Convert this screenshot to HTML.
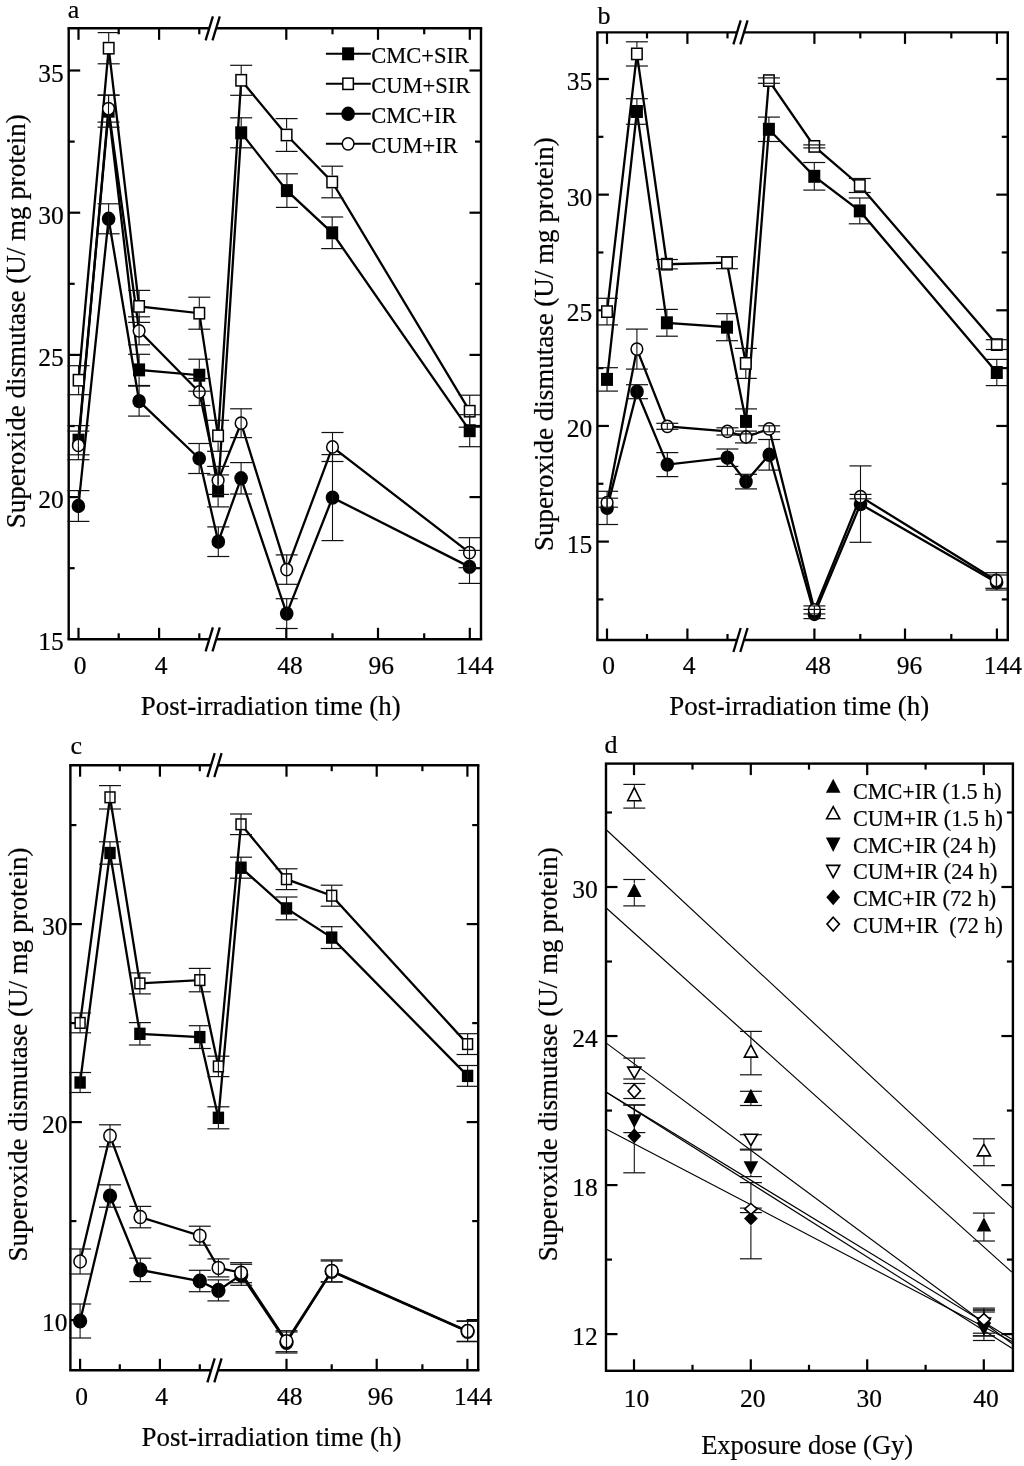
<!DOCTYPE html><html><head><meta charset="utf-8"><style>html,body{margin:0;padding:0;background:#fff;}svg{display:block;will-change:transform;}text{font-family:"Liberation Serif",serif;fill:#000;stroke:#000;stroke-width:0.2px;}</style></head><body>
<svg width="1024" height="1466" viewBox="0 0 1024 1466">
<rect width="1024" height="1466" fill="#fff"/>
<line x1="67.50" y1="28.30" x2="209.25" y2="28.30" stroke="#000" stroke-width="2.4" stroke-linecap="butt"/>
<line x1="216.15" y1="28.30" x2="482.20" y2="28.30" stroke="#000" stroke-width="2.4" stroke-linecap="butt"/>
<line x1="67.50" y1="639.30" x2="209.25" y2="639.30" stroke="#000" stroke-width="2.4" stroke-linecap="butt"/>
<line x1="216.15" y1="639.30" x2="482.20" y2="639.30" stroke="#000" stroke-width="2.4" stroke-linecap="butt"/>
<line x1="68.70" y1="28.30" x2="68.70" y2="639.30" stroke="#000" stroke-width="2.4" stroke-linecap="butt"/>
<line x1="481.00" y1="28.30" x2="481.00" y2="639.30" stroke="#000" stroke-width="2.4" stroke-linecap="butt"/>
<line x1="212.90" y1="16.30" x2="205.60" y2="40.30" stroke="#000" stroke-width="2.3" stroke-linecap="butt"/>
<line x1="219.80" y1="16.30" x2="212.50" y2="40.30" stroke="#000" stroke-width="2.3" stroke-linecap="butt"/>
<line x1="212.90" y1="627.30" x2="205.60" y2="651.30" stroke="#000" stroke-width="2.3" stroke-linecap="butt"/>
<line x1="219.80" y1="627.30" x2="212.50" y2="651.30" stroke="#000" stroke-width="2.3" stroke-linecap="butt"/>
<line x1="78.50" y1="28.30" x2="78.50" y2="39.80" stroke="#000" stroke-width="2.2" stroke-linecap="butt"/>
<line x1="78.50" y1="639.30" x2="78.50" y2="627.80" stroke="#000" stroke-width="2.2" stroke-linecap="butt"/>
<line x1="118.70" y1="28.30" x2="118.70" y2="34.30" stroke="#000" stroke-width="2.2" stroke-linecap="butt"/>
<line x1="118.70" y1="639.30" x2="118.70" y2="633.30" stroke="#000" stroke-width="2.2" stroke-linecap="butt"/>
<line x1="159.10" y1="28.30" x2="159.10" y2="39.80" stroke="#000" stroke-width="2.2" stroke-linecap="butt"/>
<line x1="159.10" y1="639.30" x2="159.10" y2="627.80" stroke="#000" stroke-width="2.2" stroke-linecap="butt"/>
<line x1="199.30" y1="28.30" x2="199.30" y2="34.30" stroke="#000" stroke-width="2.2" stroke-linecap="butt"/>
<line x1="199.30" y1="639.30" x2="199.30" y2="633.30" stroke="#000" stroke-width="2.2" stroke-linecap="butt"/>
<line x1="286.30" y1="28.30" x2="286.30" y2="39.80" stroke="#000" stroke-width="2.2" stroke-linecap="butt"/>
<line x1="286.30" y1="639.30" x2="286.30" y2="627.80" stroke="#000" stroke-width="2.2" stroke-linecap="butt"/>
<line x1="332.50" y1="28.30" x2="332.50" y2="34.30" stroke="#000" stroke-width="2.2" stroke-linecap="butt"/>
<line x1="332.50" y1="639.30" x2="332.50" y2="633.30" stroke="#000" stroke-width="2.2" stroke-linecap="butt"/>
<line x1="378.00" y1="28.30" x2="378.00" y2="39.80" stroke="#000" stroke-width="2.2" stroke-linecap="butt"/>
<line x1="378.00" y1="639.30" x2="378.00" y2="627.80" stroke="#000" stroke-width="2.2" stroke-linecap="butt"/>
<line x1="424.20" y1="28.30" x2="424.20" y2="34.30" stroke="#000" stroke-width="2.2" stroke-linecap="butt"/>
<line x1="424.20" y1="639.30" x2="424.20" y2="633.30" stroke="#000" stroke-width="2.2" stroke-linecap="butt"/>
<line x1="469.80" y1="28.30" x2="469.80" y2="39.80" stroke="#000" stroke-width="2.2" stroke-linecap="butt"/>
<line x1="469.80" y1="639.30" x2="469.80" y2="627.80" stroke="#000" stroke-width="2.2" stroke-linecap="butt"/>
<line x1="68.70" y1="568.20" x2="74.70" y2="568.20" stroke="#000" stroke-width="2.2" stroke-linecap="butt"/>
<line x1="481.00" y1="568.20" x2="475.00" y2="568.20" stroke="#000" stroke-width="2.2" stroke-linecap="butt"/>
<line x1="68.70" y1="497.10" x2="80.20" y2="497.10" stroke="#000" stroke-width="2.2" stroke-linecap="butt"/>
<line x1="481.00" y1="497.10" x2="469.50" y2="497.10" stroke="#000" stroke-width="2.2" stroke-linecap="butt"/>
<line x1="68.70" y1="426.00" x2="74.70" y2="426.00" stroke="#000" stroke-width="2.2" stroke-linecap="butt"/>
<line x1="481.00" y1="426.00" x2="475.00" y2="426.00" stroke="#000" stroke-width="2.2" stroke-linecap="butt"/>
<line x1="68.70" y1="354.90" x2="80.20" y2="354.90" stroke="#000" stroke-width="2.2" stroke-linecap="butt"/>
<line x1="481.00" y1="354.90" x2="469.50" y2="354.90" stroke="#000" stroke-width="2.2" stroke-linecap="butt"/>
<line x1="68.70" y1="283.80" x2="74.70" y2="283.80" stroke="#000" stroke-width="2.2" stroke-linecap="butt"/>
<line x1="481.00" y1="283.80" x2="475.00" y2="283.80" stroke="#000" stroke-width="2.2" stroke-linecap="butt"/>
<line x1="68.70" y1="212.70" x2="80.20" y2="212.70" stroke="#000" stroke-width="2.2" stroke-linecap="butt"/>
<line x1="481.00" y1="212.70" x2="469.50" y2="212.70" stroke="#000" stroke-width="2.2" stroke-linecap="butt"/>
<line x1="68.70" y1="141.60" x2="74.70" y2="141.60" stroke="#000" stroke-width="2.2" stroke-linecap="butt"/>
<line x1="481.00" y1="141.60" x2="475.00" y2="141.60" stroke="#000" stroke-width="2.2" stroke-linecap="butt"/>
<line x1="68.70" y1="70.50" x2="80.20" y2="70.50" stroke="#000" stroke-width="2.2" stroke-linecap="butt"/>
<line x1="481.00" y1="70.50" x2="469.50" y2="70.50" stroke="#000" stroke-width="2.2" stroke-linecap="butt"/>
<path d="M78.50,440.20 L108.60,111.20 L139.10,369.90 L199.30,375.20 L218.10,490.90 L241.20,132.80 L286.90,190.60 L332.20,232.80 L469.70,430.70" fill="none" stroke="#000" stroke-width="2.3" stroke-linejoin="miter" stroke-miterlimit="3"/>
<path d="M78.60,380.20 L108.70,48.20 L139.10,306.40 L199.30,313.20 L218.10,435.80 L241.20,80.30 L286.60,135.00 L332.20,182.00 L469.70,411.20" fill="none" stroke="#000" stroke-width="2.3" stroke-linejoin="miter" stroke-miterlimit="3"/>
<path d="M78.40,506.00 L108.60,218.80 L139.10,401.10 L199.20,458.50 L218.30,541.70 L241.10,478.30 L286.70,613.60 L332.50,497.60 L469.50,566.90" fill="none" stroke="#000" stroke-width="2.3" stroke-linejoin="miter" stroke-miterlimit="3"/>
<path d="M78.40,445.40 L108.50,108.60 L139.10,330.80 L199.30,392.00 L218.10,480.40 L241.10,423.20 L286.70,569.60 L332.50,447.00 L469.50,552.70" fill="none" stroke="#000" stroke-width="2.3" stroke-linejoin="miter" stroke-miterlimit="3"/>
<rect x="72.50" y="433.70" width="12.00" height="13.00" fill="#000"/>
<rect x="102.60" y="104.70" width="12.00" height="13.00" fill="#000"/>
<rect x="133.10" y="363.40" width="12.00" height="13.00" fill="#000"/>
<rect x="193.30" y="368.70" width="12.00" height="13.00" fill="#000"/>
<rect x="212.10" y="484.40" width="12.00" height="13.00" fill="#000"/>
<rect x="235.20" y="126.30" width="12.00" height="13.00" fill="#000"/>
<rect x="280.90" y="184.10" width="12.00" height="13.00" fill="#000"/>
<rect x="326.20" y="226.30" width="12.00" height="13.00" fill="#000"/>
<rect x="463.70" y="424.20" width="12.00" height="13.00" fill="#000"/>
<rect x="73.35" y="374.55" width="10.50" height="11.30" fill="#fff" stroke="#000" stroke-width="1.5"/>
<rect x="103.45" y="42.55" width="10.50" height="11.30" fill="#fff" stroke="#000" stroke-width="1.5"/>
<rect x="133.85" y="300.75" width="10.50" height="11.30" fill="#fff" stroke="#000" stroke-width="1.5"/>
<rect x="194.05" y="307.55" width="10.50" height="11.30" fill="#fff" stroke="#000" stroke-width="1.5"/>
<rect x="212.85" y="430.15" width="10.50" height="11.30" fill="#fff" stroke="#000" stroke-width="1.5"/>
<rect x="235.95" y="74.65" width="10.50" height="11.30" fill="#fff" stroke="#000" stroke-width="1.5"/>
<rect x="281.35" y="129.35" width="10.50" height="11.30" fill="#fff" stroke="#000" stroke-width="1.5"/>
<rect x="326.95" y="176.35" width="10.50" height="11.30" fill="#fff" stroke="#000" stroke-width="1.5"/>
<rect x="464.45" y="405.55" width="10.50" height="11.30" fill="#fff" stroke="#000" stroke-width="1.5"/>
<ellipse cx="78.40" cy="506.00" rx="6.80" ry="7.20" fill="#000"/>
<ellipse cx="108.60" cy="218.80" rx="6.80" ry="7.20" fill="#000"/>
<ellipse cx="139.10" cy="401.10" rx="6.80" ry="7.20" fill="#000"/>
<ellipse cx="199.20" cy="458.50" rx="6.80" ry="7.20" fill="#000"/>
<ellipse cx="218.30" cy="541.70" rx="6.80" ry="7.20" fill="#000"/>
<ellipse cx="241.10" cy="478.30" rx="6.80" ry="7.20" fill="#000"/>
<ellipse cx="286.70" cy="613.60" rx="6.80" ry="7.20" fill="#000"/>
<ellipse cx="332.50" cy="497.60" rx="6.80" ry="7.20" fill="#000"/>
<ellipse cx="469.50" cy="566.90" rx="6.80" ry="7.20" fill="#000"/>
<ellipse cx="78.40" cy="445.40" rx="5.85" ry="6.15" fill="#fff" stroke="#000" stroke-width="1.5"/>
<ellipse cx="108.50" cy="108.60" rx="5.85" ry="6.15" fill="#fff" stroke="#000" stroke-width="1.5"/>
<ellipse cx="139.10" cy="330.80" rx="5.85" ry="6.15" fill="#fff" stroke="#000" stroke-width="1.5"/>
<ellipse cx="199.30" cy="392.00" rx="5.85" ry="6.15" fill="#fff" stroke="#000" stroke-width="1.5"/>
<ellipse cx="218.10" cy="480.40" rx="5.85" ry="6.15" fill="#fff" stroke="#000" stroke-width="1.5"/>
<ellipse cx="241.10" cy="423.20" rx="5.85" ry="6.15" fill="#fff" stroke="#000" stroke-width="1.5"/>
<ellipse cx="286.70" cy="569.60" rx="5.85" ry="6.15" fill="#fff" stroke="#000" stroke-width="1.5"/>
<ellipse cx="332.50" cy="447.00" rx="5.85" ry="6.15" fill="#fff" stroke="#000" stroke-width="1.5"/>
<ellipse cx="469.50" cy="552.70" rx="5.85" ry="6.15" fill="#fff" stroke="#000" stroke-width="1.5"/>
<line x1="78.50" y1="425.60" x2="78.50" y2="433.70" stroke="#111" stroke-width="1.1" stroke-linecap="butt"/>
<line x1="78.50" y1="446.70" x2="78.50" y2="454.80" stroke="#111" stroke-width="1.1" stroke-linecap="butt"/>
<line x1="67.50" y1="425.60" x2="89.50" y2="425.60" stroke="#111" stroke-width="1.2" stroke-linecap="butt"/>
<line x1="67.50" y1="454.80" x2="89.50" y2="454.80" stroke="#111" stroke-width="1.2" stroke-linecap="butt"/>
<line x1="108.60" y1="95.20" x2="108.60" y2="104.70" stroke="#111" stroke-width="1.1" stroke-linecap="butt"/>
<line x1="108.60" y1="117.70" x2="108.60" y2="127.20" stroke="#111" stroke-width="1.1" stroke-linecap="butt"/>
<line x1="97.60" y1="95.20" x2="119.60" y2="95.20" stroke="#111" stroke-width="1.2" stroke-linecap="butt"/>
<line x1="97.60" y1="127.20" x2="119.60" y2="127.20" stroke="#111" stroke-width="1.2" stroke-linecap="butt"/>
<line x1="139.10" y1="354.30" x2="139.10" y2="363.40" stroke="#111" stroke-width="1.1" stroke-linecap="butt"/>
<line x1="139.10" y1="376.40" x2="139.10" y2="385.50" stroke="#111" stroke-width="1.1" stroke-linecap="butt"/>
<line x1="128.10" y1="354.30" x2="150.10" y2="354.30" stroke="#111" stroke-width="1.2" stroke-linecap="butt"/>
<line x1="128.10" y1="385.50" x2="150.10" y2="385.50" stroke="#111" stroke-width="1.2" stroke-linecap="butt"/>
<line x1="199.30" y1="359.20" x2="199.30" y2="368.70" stroke="#111" stroke-width="1.1" stroke-linecap="butt"/>
<line x1="199.30" y1="381.70" x2="199.30" y2="391.20" stroke="#111" stroke-width="1.1" stroke-linecap="butt"/>
<line x1="188.30" y1="359.20" x2="210.30" y2="359.20" stroke="#111" stroke-width="1.2" stroke-linecap="butt"/>
<line x1="188.30" y1="391.20" x2="210.30" y2="391.20" stroke="#111" stroke-width="1.2" stroke-linecap="butt"/>
<line x1="218.10" y1="474.90" x2="218.10" y2="484.40" stroke="#111" stroke-width="1.1" stroke-linecap="butt"/>
<line x1="218.10" y1="497.40" x2="218.10" y2="506.90" stroke="#111" stroke-width="1.1" stroke-linecap="butt"/>
<line x1="207.10" y1="474.90" x2="229.10" y2="474.90" stroke="#111" stroke-width="1.2" stroke-linecap="butt"/>
<line x1="207.10" y1="506.90" x2="229.10" y2="506.90" stroke="#111" stroke-width="1.2" stroke-linecap="butt"/>
<line x1="241.20" y1="117.80" x2="241.20" y2="126.30" stroke="#111" stroke-width="1.1" stroke-linecap="butt"/>
<line x1="241.20" y1="139.30" x2="241.20" y2="147.80" stroke="#111" stroke-width="1.1" stroke-linecap="butt"/>
<line x1="230.20" y1="117.80" x2="252.20" y2="117.80" stroke="#111" stroke-width="1.2" stroke-linecap="butt"/>
<line x1="230.20" y1="147.80" x2="252.20" y2="147.80" stroke="#111" stroke-width="1.2" stroke-linecap="butt"/>
<line x1="286.90" y1="173.80" x2="286.90" y2="184.10" stroke="#111" stroke-width="1.1" stroke-linecap="butt"/>
<line x1="286.90" y1="197.10" x2="286.90" y2="207.40" stroke="#111" stroke-width="1.1" stroke-linecap="butt"/>
<line x1="275.90" y1="173.80" x2="297.90" y2="173.80" stroke="#111" stroke-width="1.2" stroke-linecap="butt"/>
<line x1="275.90" y1="207.40" x2="297.90" y2="207.40" stroke="#111" stroke-width="1.2" stroke-linecap="butt"/>
<line x1="332.20" y1="217.00" x2="332.20" y2="226.30" stroke="#111" stroke-width="1.1" stroke-linecap="butt"/>
<line x1="332.20" y1="239.30" x2="332.20" y2="248.60" stroke="#111" stroke-width="1.1" stroke-linecap="butt"/>
<line x1="321.20" y1="217.00" x2="343.20" y2="217.00" stroke="#111" stroke-width="1.2" stroke-linecap="butt"/>
<line x1="321.20" y1="248.60" x2="343.20" y2="248.60" stroke="#111" stroke-width="1.2" stroke-linecap="butt"/>
<line x1="469.70" y1="414.70" x2="469.70" y2="424.20" stroke="#111" stroke-width="1.1" stroke-linecap="butt"/>
<line x1="469.70" y1="437.20" x2="469.70" y2="446.70" stroke="#111" stroke-width="1.1" stroke-linecap="butt"/>
<line x1="458.70" y1="414.70" x2="480.70" y2="414.70" stroke="#111" stroke-width="1.2" stroke-linecap="butt"/>
<line x1="458.70" y1="446.70" x2="480.70" y2="446.70" stroke="#111" stroke-width="1.2" stroke-linecap="butt"/>
<line x1="78.60" y1="365.70" x2="78.60" y2="373.80" stroke="#111" stroke-width="1.1" stroke-linecap="butt"/>
<line x1="78.60" y1="386.60" x2="78.60" y2="394.70" stroke="#111" stroke-width="1.1" stroke-linecap="butt"/>
<line x1="67.60" y1="365.70" x2="89.60" y2="365.70" stroke="#111" stroke-width="1.2" stroke-linecap="butt"/>
<line x1="67.60" y1="394.70" x2="89.60" y2="394.70" stroke="#111" stroke-width="1.2" stroke-linecap="butt"/>
<line x1="108.70" y1="32.60" x2="108.70" y2="41.80" stroke="#111" stroke-width="1.1" stroke-linecap="butt"/>
<line x1="108.70" y1="54.60" x2="108.70" y2="63.80" stroke="#111" stroke-width="1.1" stroke-linecap="butt"/>
<line x1="97.70" y1="32.60" x2="119.70" y2="32.60" stroke="#111" stroke-width="1.2" stroke-linecap="butt"/>
<line x1="97.70" y1="63.80" x2="119.70" y2="63.80" stroke="#111" stroke-width="1.2" stroke-linecap="butt"/>
<line x1="139.10" y1="290.40" x2="139.10" y2="300.00" stroke="#111" stroke-width="1.1" stroke-linecap="butt"/>
<line x1="139.10" y1="312.80" x2="139.10" y2="322.40" stroke="#111" stroke-width="1.1" stroke-linecap="butt"/>
<line x1="128.10" y1="290.40" x2="150.10" y2="290.40" stroke="#111" stroke-width="1.2" stroke-linecap="butt"/>
<line x1="128.10" y1="322.40" x2="150.10" y2="322.40" stroke="#111" stroke-width="1.2" stroke-linecap="butt"/>
<line x1="199.30" y1="297.20" x2="199.30" y2="306.80" stroke="#111" stroke-width="1.1" stroke-linecap="butt"/>
<line x1="199.30" y1="319.60" x2="199.30" y2="329.20" stroke="#111" stroke-width="1.1" stroke-linecap="butt"/>
<line x1="188.30" y1="297.20" x2="210.30" y2="297.20" stroke="#111" stroke-width="1.2" stroke-linecap="butt"/>
<line x1="188.30" y1="329.20" x2="210.30" y2="329.20" stroke="#111" stroke-width="1.2" stroke-linecap="butt"/>
<line x1="218.10" y1="420.30" x2="218.10" y2="429.40" stroke="#111" stroke-width="1.1" stroke-linecap="butt"/>
<line x1="218.10" y1="442.20" x2="218.10" y2="451.30" stroke="#111" stroke-width="1.1" stroke-linecap="butt"/>
<line x1="207.10" y1="420.30" x2="229.10" y2="420.30" stroke="#111" stroke-width="1.2" stroke-linecap="butt"/>
<line x1="207.10" y1="451.30" x2="229.10" y2="451.30" stroke="#111" stroke-width="1.2" stroke-linecap="butt"/>
<line x1="241.20" y1="65.30" x2="241.20" y2="73.90" stroke="#111" stroke-width="1.1" stroke-linecap="butt"/>
<line x1="241.20" y1="86.70" x2="241.20" y2="95.30" stroke="#111" stroke-width="1.1" stroke-linecap="butt"/>
<line x1="230.20" y1="65.30" x2="252.20" y2="65.30" stroke="#111" stroke-width="1.2" stroke-linecap="butt"/>
<line x1="230.20" y1="95.30" x2="252.20" y2="95.30" stroke="#111" stroke-width="1.2" stroke-linecap="butt"/>
<line x1="286.60" y1="118.60" x2="286.60" y2="128.60" stroke="#111" stroke-width="1.1" stroke-linecap="butt"/>
<line x1="286.60" y1="141.40" x2="286.60" y2="151.40" stroke="#111" stroke-width="1.1" stroke-linecap="butt"/>
<line x1="275.60" y1="118.60" x2="297.60" y2="118.60" stroke="#111" stroke-width="1.2" stroke-linecap="butt"/>
<line x1="275.60" y1="151.40" x2="297.60" y2="151.40" stroke="#111" stroke-width="1.2" stroke-linecap="butt"/>
<line x1="332.20" y1="166.20" x2="332.20" y2="175.60" stroke="#111" stroke-width="1.1" stroke-linecap="butt"/>
<line x1="332.20" y1="188.40" x2="332.20" y2="197.80" stroke="#111" stroke-width="1.1" stroke-linecap="butt"/>
<line x1="321.20" y1="166.20" x2="343.20" y2="166.20" stroke="#111" stroke-width="1.2" stroke-linecap="butt"/>
<line x1="321.20" y1="197.80" x2="343.20" y2="197.80" stroke="#111" stroke-width="1.2" stroke-linecap="butt"/>
<line x1="469.70" y1="395.20" x2="469.70" y2="404.80" stroke="#111" stroke-width="1.1" stroke-linecap="butt"/>
<line x1="469.70" y1="417.60" x2="469.70" y2="427.20" stroke="#111" stroke-width="1.1" stroke-linecap="butt"/>
<line x1="458.70" y1="395.20" x2="480.70" y2="395.20" stroke="#111" stroke-width="1.2" stroke-linecap="butt"/>
<line x1="458.70" y1="427.20" x2="480.70" y2="427.20" stroke="#111" stroke-width="1.2" stroke-linecap="butt"/>
<line x1="78.40" y1="490.60" x2="78.40" y2="521.40" stroke="#111" stroke-width="1.1" stroke-linecap="butt"/>
<line x1="67.40" y1="490.60" x2="89.40" y2="490.60" stroke="#111" stroke-width="1.2" stroke-linecap="butt"/>
<line x1="67.40" y1="521.40" x2="89.40" y2="521.40" stroke="#111" stroke-width="1.2" stroke-linecap="butt"/>
<line x1="108.60" y1="203.80" x2="108.60" y2="233.80" stroke="#111" stroke-width="1.1" stroke-linecap="butt"/>
<line x1="97.60" y1="203.80" x2="119.60" y2="203.80" stroke="#111" stroke-width="1.2" stroke-linecap="butt"/>
<line x1="97.60" y1="233.80" x2="119.60" y2="233.80" stroke="#111" stroke-width="1.2" stroke-linecap="butt"/>
<line x1="139.10" y1="386.10" x2="139.10" y2="416.10" stroke="#111" stroke-width="1.1" stroke-linecap="butt"/>
<line x1="128.10" y1="386.10" x2="150.10" y2="386.10" stroke="#111" stroke-width="1.2" stroke-linecap="butt"/>
<line x1="128.10" y1="416.10" x2="150.10" y2="416.10" stroke="#111" stroke-width="1.2" stroke-linecap="butt"/>
<line x1="199.20" y1="443.50" x2="199.20" y2="473.50" stroke="#111" stroke-width="1.1" stroke-linecap="butt"/>
<line x1="188.20" y1="443.50" x2="210.20" y2="443.50" stroke="#111" stroke-width="1.2" stroke-linecap="butt"/>
<line x1="188.20" y1="473.50" x2="210.20" y2="473.50" stroke="#111" stroke-width="1.2" stroke-linecap="butt"/>
<line x1="218.30" y1="526.90" x2="218.30" y2="556.50" stroke="#111" stroke-width="1.1" stroke-linecap="butt"/>
<line x1="207.30" y1="526.90" x2="229.30" y2="526.90" stroke="#111" stroke-width="1.2" stroke-linecap="butt"/>
<line x1="207.30" y1="556.50" x2="229.30" y2="556.50" stroke="#111" stroke-width="1.2" stroke-linecap="butt"/>
<line x1="241.10" y1="462.60" x2="241.10" y2="494.00" stroke="#111" stroke-width="1.1" stroke-linecap="butt"/>
<line x1="230.10" y1="462.60" x2="252.10" y2="462.60" stroke="#111" stroke-width="1.2" stroke-linecap="butt"/>
<line x1="230.10" y1="494.00" x2="252.10" y2="494.00" stroke="#111" stroke-width="1.2" stroke-linecap="butt"/>
<line x1="286.70" y1="598.70" x2="286.70" y2="628.50" stroke="#111" stroke-width="1.1" stroke-linecap="butt"/>
<line x1="275.70" y1="598.70" x2="297.70" y2="598.70" stroke="#111" stroke-width="1.2" stroke-linecap="butt"/>
<line x1="275.70" y1="628.50" x2="297.70" y2="628.50" stroke="#111" stroke-width="1.2" stroke-linecap="butt"/>
<line x1="332.50" y1="454.60" x2="332.50" y2="540.60" stroke="#111" stroke-width="1.1" stroke-linecap="butt"/>
<line x1="321.50" y1="454.60" x2="343.50" y2="454.60" stroke="#111" stroke-width="1.2" stroke-linecap="butt"/>
<line x1="321.50" y1="540.60" x2="343.50" y2="540.60" stroke="#111" stroke-width="1.2" stroke-linecap="butt"/>
<line x1="469.50" y1="550.40" x2="469.50" y2="583.40" stroke="#111" stroke-width="1.1" stroke-linecap="butt"/>
<line x1="458.50" y1="550.40" x2="480.50" y2="550.40" stroke="#111" stroke-width="1.2" stroke-linecap="butt"/>
<line x1="458.50" y1="583.40" x2="480.50" y2="583.40" stroke="#111" stroke-width="1.2" stroke-linecap="butt"/>
<line x1="78.40" y1="431.10" x2="78.40" y2="459.70" stroke="#111" stroke-width="1.1" stroke-linecap="butt"/>
<line x1="67.40" y1="431.10" x2="89.40" y2="431.10" stroke="#111" stroke-width="1.2" stroke-linecap="butt"/>
<line x1="67.40" y1="459.70" x2="89.40" y2="459.70" stroke="#111" stroke-width="1.2" stroke-linecap="butt"/>
<line x1="108.50" y1="95.10" x2="108.50" y2="122.10" stroke="#111" stroke-width="1.1" stroke-linecap="butt"/>
<line x1="97.50" y1="95.10" x2="119.50" y2="95.10" stroke="#111" stroke-width="1.2" stroke-linecap="butt"/>
<line x1="97.50" y1="122.10" x2="119.50" y2="122.10" stroke="#111" stroke-width="1.2" stroke-linecap="butt"/>
<line x1="139.10" y1="316.80" x2="139.10" y2="344.80" stroke="#111" stroke-width="1.1" stroke-linecap="butt"/>
<line x1="128.10" y1="316.80" x2="150.10" y2="316.80" stroke="#111" stroke-width="1.2" stroke-linecap="butt"/>
<line x1="128.10" y1="344.80" x2="150.10" y2="344.80" stroke="#111" stroke-width="1.2" stroke-linecap="butt"/>
<line x1="199.30" y1="378.50" x2="199.30" y2="405.50" stroke="#111" stroke-width="1.1" stroke-linecap="butt"/>
<line x1="188.30" y1="378.50" x2="210.30" y2="378.50" stroke="#111" stroke-width="1.2" stroke-linecap="butt"/>
<line x1="188.30" y1="405.50" x2="210.30" y2="405.50" stroke="#111" stroke-width="1.2" stroke-linecap="butt"/>
<line x1="218.10" y1="466.40" x2="218.10" y2="494.40" stroke="#111" stroke-width="1.1" stroke-linecap="butt"/>
<line x1="207.10" y1="466.40" x2="229.10" y2="466.40" stroke="#111" stroke-width="1.2" stroke-linecap="butt"/>
<line x1="207.10" y1="494.40" x2="229.10" y2="494.40" stroke="#111" stroke-width="1.2" stroke-linecap="butt"/>
<line x1="241.10" y1="408.80" x2="241.10" y2="437.60" stroke="#111" stroke-width="1.1" stroke-linecap="butt"/>
<line x1="230.10" y1="408.80" x2="252.10" y2="408.80" stroke="#111" stroke-width="1.2" stroke-linecap="butt"/>
<line x1="230.10" y1="437.60" x2="252.10" y2="437.60" stroke="#111" stroke-width="1.2" stroke-linecap="butt"/>
<line x1="286.70" y1="554.90" x2="286.70" y2="584.30" stroke="#111" stroke-width="1.1" stroke-linecap="butt"/>
<line x1="275.70" y1="554.90" x2="297.70" y2="554.90" stroke="#111" stroke-width="1.2" stroke-linecap="butt"/>
<line x1="275.70" y1="584.30" x2="297.70" y2="584.30" stroke="#111" stroke-width="1.2" stroke-linecap="butt"/>
<line x1="332.50" y1="432.50" x2="332.50" y2="461.50" stroke="#111" stroke-width="1.1" stroke-linecap="butt"/>
<line x1="321.50" y1="432.50" x2="343.50" y2="432.50" stroke="#111" stroke-width="1.2" stroke-linecap="butt"/>
<line x1="321.50" y1="461.50" x2="343.50" y2="461.50" stroke="#111" stroke-width="1.2" stroke-linecap="butt"/>
<line x1="469.50" y1="537.70" x2="469.50" y2="567.70" stroke="#111" stroke-width="1.1" stroke-linecap="butt"/>
<line x1="458.50" y1="537.70" x2="480.50" y2="537.70" stroke="#111" stroke-width="1.2" stroke-linecap="butt"/>
<line x1="458.50" y1="567.70" x2="480.50" y2="567.70" stroke="#111" stroke-width="1.2" stroke-linecap="butt"/>
<line x1="325.90" y1="53.80" x2="370.80" y2="53.80" stroke="#000" stroke-width="2.1" stroke-linecap="butt"/>
<rect x="342.10" y="47.30" width="12.00" height="13.00" fill="#000"/>
<text x="371.20" y="62.60" font-size="22.5" text-anchor="start" >CMC+SIR</text>
<line x1="325.90" y1="83.80" x2="370.80" y2="83.80" stroke="#000" stroke-width="2.1" stroke-linecap="butt"/>
<rect x="342.85" y="78.15" width="10.50" height="11.30" fill="#fff" stroke="#000" stroke-width="1.5"/>
<text x="371.20" y="92.60" font-size="22.5" text-anchor="start" >CUM+SIR</text>
<line x1="325.90" y1="113.80" x2="370.80" y2="113.80" stroke="#000" stroke-width="2.1" stroke-linecap="butt"/>
<ellipse cx="348.10" cy="113.80" rx="6.80" ry="7.20" fill="#000"/>
<text x="371.20" y="122.60" font-size="22.5" text-anchor="start" >CMC+IR</text>
<line x1="325.90" y1="143.80" x2="370.80" y2="143.80" stroke="#000" stroke-width="2.1" stroke-linecap="butt"/>
<ellipse cx="348.10" cy="143.80" rx="5.85" ry="6.15" fill="#fff" stroke="#000" stroke-width="1.5"/>
<text x="371.20" y="152.60" font-size="22.5" text-anchor="start" >CUM+IR</text>
<text x="67.80" y="17.60" font-size="26" text-anchor="start" >a</text>
<text x="63.80" y="650.30" font-size="25.5" text-anchor="end" >15</text>
<text x="63.80" y="508.10" font-size="25.5" text-anchor="end" >20</text>
<text x="63.80" y="365.90" font-size="25.5" text-anchor="end" >25</text>
<text x="63.80" y="223.70" font-size="25.5" text-anchor="end" >30</text>
<text x="63.80" y="81.50" font-size="25.5" text-anchor="end" >35</text>
<text x="80.00" y="673.60" font-size="25.5" text-anchor="middle" >0</text>
<text x="161.00" y="673.60" font-size="25.5" text-anchor="middle" >4</text>
<text x="290.00" y="673.60" font-size="25.5" text-anchor="middle" >48</text>
<text x="381.20" y="673.60" font-size="25.5" text-anchor="middle" >96</text>
<text x="474.70" y="673.60" font-size="25.5" text-anchor="middle" >144</text>
<text x="140.80" y="715.30" font-size="26.9" text-anchor="start" >Post-irradiation time (h)</text>
<text transform="translate(25.20,528.30) rotate(-90)" font-size="27.0" x="0" y="0">Superoxide dismutase (U/ mg protein)</text>
<line x1="596.20" y1="32.40" x2="737.05" y2="32.40" stroke="#000" stroke-width="2.4" stroke-linecap="butt"/>
<line x1="743.95" y1="32.40" x2="1009.00" y2="32.40" stroke="#000" stroke-width="2.4" stroke-linecap="butt"/>
<line x1="596.20" y1="640.00" x2="737.05" y2="640.00" stroke="#000" stroke-width="2.4" stroke-linecap="butt"/>
<line x1="743.95" y1="640.00" x2="1009.00" y2="640.00" stroke="#000" stroke-width="2.4" stroke-linecap="butt"/>
<line x1="597.40" y1="32.40" x2="597.40" y2="640.00" stroke="#000" stroke-width="2.4" stroke-linecap="butt"/>
<line x1="1007.80" y1="32.40" x2="1007.80" y2="640.00" stroke="#000" stroke-width="2.4" stroke-linecap="butt"/>
<line x1="740.70" y1="20.40" x2="733.40" y2="44.40" stroke="#000" stroke-width="2.3" stroke-linecap="butt"/>
<line x1="747.60" y1="20.40" x2="740.30" y2="44.40" stroke="#000" stroke-width="2.3" stroke-linecap="butt"/>
<line x1="740.70" y1="628.00" x2="733.40" y2="652.00" stroke="#000" stroke-width="2.3" stroke-linecap="butt"/>
<line x1="747.60" y1="628.00" x2="740.30" y2="652.00" stroke="#000" stroke-width="2.3" stroke-linecap="butt"/>
<line x1="607.00" y1="32.40" x2="607.00" y2="43.90" stroke="#000" stroke-width="2.2" stroke-linecap="butt"/>
<line x1="607.00" y1="640.00" x2="607.00" y2="628.50" stroke="#000" stroke-width="2.2" stroke-linecap="butt"/>
<line x1="647.00" y1="32.40" x2="647.00" y2="38.40" stroke="#000" stroke-width="2.2" stroke-linecap="butt"/>
<line x1="647.00" y1="640.00" x2="647.00" y2="634.00" stroke="#000" stroke-width="2.2" stroke-linecap="butt"/>
<line x1="687.40" y1="32.40" x2="687.40" y2="43.90" stroke="#000" stroke-width="2.2" stroke-linecap="butt"/>
<line x1="687.40" y1="640.00" x2="687.40" y2="628.50" stroke="#000" stroke-width="2.2" stroke-linecap="butt"/>
<line x1="727.50" y1="32.40" x2="727.50" y2="38.40" stroke="#000" stroke-width="2.2" stroke-linecap="butt"/>
<line x1="727.50" y1="640.00" x2="727.50" y2="634.00" stroke="#000" stroke-width="2.2" stroke-linecap="butt"/>
<line x1="814.40" y1="32.40" x2="814.40" y2="43.90" stroke="#000" stroke-width="2.2" stroke-linecap="butt"/>
<line x1="814.40" y1="640.00" x2="814.40" y2="628.50" stroke="#000" stroke-width="2.2" stroke-linecap="butt"/>
<line x1="860.30" y1="32.40" x2="860.30" y2="38.40" stroke="#000" stroke-width="2.2" stroke-linecap="butt"/>
<line x1="860.30" y1="640.00" x2="860.30" y2="634.00" stroke="#000" stroke-width="2.2" stroke-linecap="butt"/>
<line x1="905.00" y1="32.40" x2="905.00" y2="43.90" stroke="#000" stroke-width="2.2" stroke-linecap="butt"/>
<line x1="905.00" y1="640.00" x2="905.00" y2="628.50" stroke="#000" stroke-width="2.2" stroke-linecap="butt"/>
<line x1="951.30" y1="32.40" x2="951.30" y2="38.40" stroke="#000" stroke-width="2.2" stroke-linecap="butt"/>
<line x1="951.30" y1="640.00" x2="951.30" y2="634.00" stroke="#000" stroke-width="2.2" stroke-linecap="butt"/>
<line x1="996.90" y1="32.40" x2="996.90" y2="43.90" stroke="#000" stroke-width="2.2" stroke-linecap="butt"/>
<line x1="996.90" y1="640.00" x2="996.90" y2="628.50" stroke="#000" stroke-width="2.2" stroke-linecap="butt"/>
<line x1="597.40" y1="599.42" x2="603.40" y2="599.42" stroke="#000" stroke-width="2.2" stroke-linecap="butt"/>
<line x1="1007.80" y1="599.42" x2="1001.80" y2="599.42" stroke="#000" stroke-width="2.2" stroke-linecap="butt"/>
<line x1="597.40" y1="541.60" x2="608.90" y2="541.60" stroke="#000" stroke-width="2.2" stroke-linecap="butt"/>
<line x1="1007.80" y1="541.60" x2="996.30" y2="541.60" stroke="#000" stroke-width="2.2" stroke-linecap="butt"/>
<line x1="597.40" y1="483.77" x2="603.40" y2="483.77" stroke="#000" stroke-width="2.2" stroke-linecap="butt"/>
<line x1="1007.80" y1="483.77" x2="1001.80" y2="483.77" stroke="#000" stroke-width="2.2" stroke-linecap="butt"/>
<line x1="597.40" y1="425.95" x2="608.90" y2="425.95" stroke="#000" stroke-width="2.2" stroke-linecap="butt"/>
<line x1="1007.80" y1="425.95" x2="996.30" y2="425.95" stroke="#000" stroke-width="2.2" stroke-linecap="butt"/>
<line x1="597.40" y1="368.12" x2="603.40" y2="368.12" stroke="#000" stroke-width="2.2" stroke-linecap="butt"/>
<line x1="1007.80" y1="368.12" x2="1001.80" y2="368.12" stroke="#000" stroke-width="2.2" stroke-linecap="butt"/>
<line x1="597.40" y1="310.30" x2="608.90" y2="310.30" stroke="#000" stroke-width="2.2" stroke-linecap="butt"/>
<line x1="1007.80" y1="310.30" x2="996.30" y2="310.30" stroke="#000" stroke-width="2.2" stroke-linecap="butt"/>
<line x1="597.40" y1="252.47" x2="603.40" y2="252.47" stroke="#000" stroke-width="2.2" stroke-linecap="butt"/>
<line x1="1007.80" y1="252.47" x2="1001.80" y2="252.47" stroke="#000" stroke-width="2.2" stroke-linecap="butt"/>
<line x1="597.40" y1="194.65" x2="608.90" y2="194.65" stroke="#000" stroke-width="2.2" stroke-linecap="butt"/>
<line x1="1007.80" y1="194.65" x2="996.30" y2="194.65" stroke="#000" stroke-width="2.2" stroke-linecap="butt"/>
<line x1="597.40" y1="136.82" x2="603.40" y2="136.82" stroke="#000" stroke-width="2.2" stroke-linecap="butt"/>
<line x1="1007.80" y1="136.82" x2="1001.80" y2="136.82" stroke="#000" stroke-width="2.2" stroke-linecap="butt"/>
<line x1="597.40" y1="79.00" x2="608.90" y2="79.00" stroke="#000" stroke-width="2.2" stroke-linecap="butt"/>
<line x1="1007.80" y1="79.00" x2="996.30" y2="79.00" stroke="#000" stroke-width="2.2" stroke-linecap="butt"/>
<path d="M607.00,379.40 L636.90,111.50 L666.90,322.80 L727.00,327.20 L746.00,421.40 L768.90,129.30 L814.30,176.30 L859.80,210.90 L996.80,372.50" fill="none" stroke="#000" stroke-width="2.3" stroke-linejoin="miter" stroke-miterlimit="3"/>
<path d="M607.00,311.60 L636.90,53.90 L666.90,264.20 L727.00,262.70 L745.80,363.40 L768.90,80.60 L814.30,146.40 L859.80,185.50 L996.80,344.60" fill="none" stroke="#000" stroke-width="2.3" stroke-linejoin="miter" stroke-miterlimit="3"/>
<path d="M607.10,507.90 L637.00,391.70 L667.30,464.60 L727.40,457.70 L746.00,481.60 L769.20,454.80 L814.40,614.00 L860.50,504.10 L996.60,582.50" fill="none" stroke="#000" stroke-width="2.3" stroke-linejoin="miter" stroke-miterlimit="3"/>
<path d="M607.10,502.70 L636.90,349.10 L667.30,426.30 L727.40,431.40 L746.00,437.00 L769.20,428.80 L814.40,609.90 L860.50,496.60 L996.30,580.50" fill="none" stroke="#000" stroke-width="2.3" stroke-linejoin="miter" stroke-miterlimit="3"/>
<rect x="601.00" y="372.90" width="12.00" height="13.00" fill="#000"/>
<rect x="630.90" y="105.00" width="12.00" height="13.00" fill="#000"/>
<rect x="660.90" y="316.30" width="12.00" height="13.00" fill="#000"/>
<rect x="721.00" y="320.70" width="12.00" height="13.00" fill="#000"/>
<rect x="740.00" y="414.90" width="12.00" height="13.00" fill="#000"/>
<rect x="762.90" y="122.80" width="12.00" height="13.00" fill="#000"/>
<rect x="808.30" y="169.80" width="12.00" height="13.00" fill="#000"/>
<rect x="853.80" y="204.40" width="12.00" height="13.00" fill="#000"/>
<rect x="990.80" y="366.00" width="12.00" height="13.00" fill="#000"/>
<rect x="601.75" y="305.95" width="10.50" height="11.30" fill="#fff" stroke="#000" stroke-width="1.5"/>
<rect x="631.65" y="48.25" width="10.50" height="11.30" fill="#fff" stroke="#000" stroke-width="1.5"/>
<rect x="661.65" y="258.55" width="10.50" height="11.30" fill="#fff" stroke="#000" stroke-width="1.5"/>
<rect x="721.75" y="257.05" width="10.50" height="11.30" fill="#fff" stroke="#000" stroke-width="1.5"/>
<rect x="740.55" y="357.75" width="10.50" height="11.30" fill="#fff" stroke="#000" stroke-width="1.5"/>
<rect x="763.65" y="74.95" width="10.50" height="11.30" fill="#fff" stroke="#000" stroke-width="1.5"/>
<rect x="809.05" y="140.75" width="10.50" height="11.30" fill="#fff" stroke="#000" stroke-width="1.5"/>
<rect x="854.55" y="179.85" width="10.50" height="11.30" fill="#fff" stroke="#000" stroke-width="1.5"/>
<rect x="991.55" y="338.95" width="10.50" height="11.30" fill="#fff" stroke="#000" stroke-width="1.5"/>
<ellipse cx="607.10" cy="507.90" rx="6.80" ry="7.20" fill="#000"/>
<ellipse cx="637.00" cy="391.70" rx="6.80" ry="7.20" fill="#000"/>
<ellipse cx="667.30" cy="464.60" rx="6.80" ry="7.20" fill="#000"/>
<ellipse cx="727.40" cy="457.70" rx="6.80" ry="7.20" fill="#000"/>
<ellipse cx="746.00" cy="481.60" rx="6.80" ry="7.20" fill="#000"/>
<ellipse cx="769.20" cy="454.80" rx="6.80" ry="7.20" fill="#000"/>
<ellipse cx="814.40" cy="614.00" rx="6.80" ry="7.20" fill="#000"/>
<ellipse cx="860.50" cy="504.10" rx="6.80" ry="7.20" fill="#000"/>
<ellipse cx="996.60" cy="582.50" rx="6.80" ry="7.20" fill="#000"/>
<ellipse cx="607.10" cy="502.70" rx="5.85" ry="6.15" fill="#fff" stroke="#000" stroke-width="1.5"/>
<ellipse cx="636.90" cy="349.10" rx="5.85" ry="6.15" fill="#fff" stroke="#000" stroke-width="1.5"/>
<ellipse cx="667.30" cy="426.30" rx="5.85" ry="6.15" fill="#fff" stroke="#000" stroke-width="1.5"/>
<ellipse cx="727.40" cy="431.40" rx="5.85" ry="6.15" fill="#fff" stroke="#000" stroke-width="1.5"/>
<ellipse cx="746.00" cy="437.00" rx="5.85" ry="6.15" fill="#fff" stroke="#000" stroke-width="1.5"/>
<ellipse cx="769.20" cy="428.80" rx="5.85" ry="6.15" fill="#fff" stroke="#000" stroke-width="1.5"/>
<ellipse cx="814.40" cy="609.90" rx="5.85" ry="6.15" fill="#fff" stroke="#000" stroke-width="1.5"/>
<ellipse cx="860.50" cy="496.60" rx="5.85" ry="6.15" fill="#fff" stroke="#000" stroke-width="1.5"/>
<ellipse cx="996.30" cy="580.50" rx="5.85" ry="6.15" fill="#fff" stroke="#000" stroke-width="1.5"/>
<line x1="607.00" y1="367.70" x2="607.00" y2="372.90" stroke="#111" stroke-width="1.1" stroke-linecap="butt"/>
<line x1="607.00" y1="385.90" x2="607.00" y2="391.10" stroke="#111" stroke-width="1.1" stroke-linecap="butt"/>
<line x1="596.00" y1="367.70" x2="618.00" y2="367.70" stroke="#111" stroke-width="1.2" stroke-linecap="butt"/>
<line x1="596.00" y1="391.10" x2="618.00" y2="391.10" stroke="#111" stroke-width="1.2" stroke-linecap="butt"/>
<line x1="636.90" y1="98.70" x2="636.90" y2="105.00" stroke="#111" stroke-width="1.1" stroke-linecap="butt"/>
<line x1="636.90" y1="118.00" x2="636.90" y2="124.30" stroke="#111" stroke-width="1.1" stroke-linecap="butt"/>
<line x1="625.90" y1="98.70" x2="647.90" y2="98.70" stroke="#111" stroke-width="1.2" stroke-linecap="butt"/>
<line x1="625.90" y1="124.30" x2="647.90" y2="124.30" stroke="#111" stroke-width="1.2" stroke-linecap="butt"/>
<line x1="666.90" y1="309.40" x2="666.90" y2="316.30" stroke="#111" stroke-width="1.1" stroke-linecap="butt"/>
<line x1="666.90" y1="329.30" x2="666.90" y2="336.20" stroke="#111" stroke-width="1.1" stroke-linecap="butt"/>
<line x1="655.90" y1="309.40" x2="677.90" y2="309.40" stroke="#111" stroke-width="1.2" stroke-linecap="butt"/>
<line x1="655.90" y1="336.20" x2="677.90" y2="336.20" stroke="#111" stroke-width="1.2" stroke-linecap="butt"/>
<line x1="727.00" y1="313.70" x2="727.00" y2="320.70" stroke="#111" stroke-width="1.1" stroke-linecap="butt"/>
<line x1="727.00" y1="333.70" x2="727.00" y2="340.70" stroke="#111" stroke-width="1.1" stroke-linecap="butt"/>
<line x1="716.00" y1="313.70" x2="738.00" y2="313.70" stroke="#111" stroke-width="1.2" stroke-linecap="butt"/>
<line x1="716.00" y1="340.70" x2="738.00" y2="340.70" stroke="#111" stroke-width="1.2" stroke-linecap="butt"/>
<line x1="746.00" y1="408.90" x2="746.00" y2="414.90" stroke="#111" stroke-width="1.1" stroke-linecap="butt"/>
<line x1="746.00" y1="427.90" x2="746.00" y2="433.90" stroke="#111" stroke-width="1.1" stroke-linecap="butt"/>
<line x1="735.00" y1="408.90" x2="757.00" y2="408.90" stroke="#111" stroke-width="1.2" stroke-linecap="butt"/>
<line x1="735.00" y1="433.90" x2="757.00" y2="433.90" stroke="#111" stroke-width="1.2" stroke-linecap="butt"/>
<line x1="768.90" y1="117.10" x2="768.90" y2="122.80" stroke="#111" stroke-width="1.1" stroke-linecap="butt"/>
<line x1="768.90" y1="135.80" x2="768.90" y2="141.50" stroke="#111" stroke-width="1.1" stroke-linecap="butt"/>
<line x1="757.90" y1="117.10" x2="779.90" y2="117.10" stroke="#111" stroke-width="1.2" stroke-linecap="butt"/>
<line x1="757.90" y1="141.50" x2="779.90" y2="141.50" stroke="#111" stroke-width="1.2" stroke-linecap="butt"/>
<line x1="814.30" y1="162.50" x2="814.30" y2="169.80" stroke="#111" stroke-width="1.1" stroke-linecap="butt"/>
<line x1="814.30" y1="182.80" x2="814.30" y2="190.10" stroke="#111" stroke-width="1.1" stroke-linecap="butt"/>
<line x1="803.30" y1="162.50" x2="825.30" y2="162.50" stroke="#111" stroke-width="1.2" stroke-linecap="butt"/>
<line x1="803.30" y1="190.10" x2="825.30" y2="190.10" stroke="#111" stroke-width="1.2" stroke-linecap="butt"/>
<line x1="859.80" y1="198.00" x2="859.80" y2="204.40" stroke="#111" stroke-width="1.1" stroke-linecap="butt"/>
<line x1="859.80" y1="217.40" x2="859.80" y2="223.80" stroke="#111" stroke-width="1.1" stroke-linecap="butt"/>
<line x1="848.80" y1="198.00" x2="870.80" y2="198.00" stroke="#111" stroke-width="1.2" stroke-linecap="butt"/>
<line x1="848.80" y1="223.80" x2="870.80" y2="223.80" stroke="#111" stroke-width="1.2" stroke-linecap="butt"/>
<line x1="996.80" y1="359.40" x2="996.80" y2="366.00" stroke="#111" stroke-width="1.1" stroke-linecap="butt"/>
<line x1="996.80" y1="379.00" x2="996.80" y2="385.60" stroke="#111" stroke-width="1.1" stroke-linecap="butt"/>
<line x1="985.80" y1="359.40" x2="1007.80" y2="359.40" stroke="#111" stroke-width="1.2" stroke-linecap="butt"/>
<line x1="985.80" y1="385.60" x2="1007.80" y2="385.60" stroke="#111" stroke-width="1.2" stroke-linecap="butt"/>
<line x1="607.00" y1="298.30" x2="607.00" y2="305.20" stroke="#111" stroke-width="1.1" stroke-linecap="butt"/>
<line x1="607.00" y1="318.00" x2="607.00" y2="324.90" stroke="#111" stroke-width="1.1" stroke-linecap="butt"/>
<line x1="596.00" y1="298.30" x2="618.00" y2="298.30" stroke="#111" stroke-width="1.2" stroke-linecap="butt"/>
<line x1="596.00" y1="324.90" x2="618.00" y2="324.90" stroke="#111" stroke-width="1.2" stroke-linecap="butt"/>
<line x1="636.90" y1="41.80" x2="636.90" y2="47.50" stroke="#111" stroke-width="1.1" stroke-linecap="butt"/>
<line x1="636.90" y1="60.30" x2="636.90" y2="66.00" stroke="#111" stroke-width="1.1" stroke-linecap="butt"/>
<line x1="625.90" y1="41.80" x2="647.90" y2="41.80" stroke="#111" stroke-width="1.2" stroke-linecap="butt"/>
<line x1="625.90" y1="66.00" x2="647.90" y2="66.00" stroke="#111" stroke-width="1.2" stroke-linecap="butt"/>
<line x1="655.90" y1="259.50" x2="677.90" y2="259.50" stroke="#111" stroke-width="1.2" stroke-linecap="butt"/>
<line x1="655.90" y1="268.90" x2="677.90" y2="268.90" stroke="#111" stroke-width="1.2" stroke-linecap="butt"/>
<line x1="716.00" y1="256.70" x2="738.00" y2="256.70" stroke="#111" stroke-width="1.2" stroke-linecap="butt"/>
<line x1="716.00" y1="268.70" x2="738.00" y2="268.70" stroke="#111" stroke-width="1.2" stroke-linecap="butt"/>
<line x1="745.80" y1="348.40" x2="745.80" y2="357.00" stroke="#111" stroke-width="1.1" stroke-linecap="butt"/>
<line x1="745.80" y1="369.80" x2="745.80" y2="378.40" stroke="#111" stroke-width="1.1" stroke-linecap="butt"/>
<line x1="734.80" y1="348.40" x2="756.80" y2="348.40" stroke="#111" stroke-width="1.2" stroke-linecap="butt"/>
<line x1="734.80" y1="378.40" x2="756.80" y2="378.40" stroke="#111" stroke-width="1.2" stroke-linecap="butt"/>
<line x1="757.90" y1="77.90" x2="779.90" y2="77.90" stroke="#111" stroke-width="1.2" stroke-linecap="butt"/>
<line x1="757.90" y1="83.30" x2="779.90" y2="83.30" stroke="#111" stroke-width="1.2" stroke-linecap="butt"/>
<line x1="803.30" y1="144.90" x2="825.30" y2="144.90" stroke="#111" stroke-width="1.2" stroke-linecap="butt"/>
<line x1="803.30" y1="147.90" x2="825.30" y2="147.90" stroke="#111" stroke-width="1.2" stroke-linecap="butt"/>
<line x1="859.80" y1="178.50" x2="859.80" y2="179.10" stroke="#111" stroke-width="1.1" stroke-linecap="butt"/>
<line x1="859.80" y1="191.90" x2="859.80" y2="192.50" stroke="#111" stroke-width="1.1" stroke-linecap="butt"/>
<line x1="848.80" y1="178.50" x2="870.80" y2="178.50" stroke="#111" stroke-width="1.2" stroke-linecap="butt"/>
<line x1="848.80" y1="192.50" x2="870.80" y2="192.50" stroke="#111" stroke-width="1.2" stroke-linecap="butt"/>
<line x1="985.80" y1="339.70" x2="1007.80" y2="339.70" stroke="#111" stroke-width="1.2" stroke-linecap="butt"/>
<line x1="985.80" y1="349.50" x2="1007.80" y2="349.50" stroke="#111" stroke-width="1.2" stroke-linecap="butt"/>
<line x1="607.10" y1="491.30" x2="607.10" y2="524.50" stroke="#111" stroke-width="1.1" stroke-linecap="butt"/>
<line x1="596.10" y1="491.30" x2="618.10" y2="491.30" stroke="#111" stroke-width="1.2" stroke-linecap="butt"/>
<line x1="596.10" y1="524.50" x2="618.10" y2="524.50" stroke="#111" stroke-width="1.2" stroke-linecap="butt"/>
<line x1="637.00" y1="384.70" x2="637.00" y2="398.70" stroke="#111" stroke-width="1.1" stroke-linecap="butt"/>
<line x1="626.00" y1="384.70" x2="648.00" y2="384.70" stroke="#111" stroke-width="1.2" stroke-linecap="butt"/>
<line x1="626.00" y1="398.70" x2="648.00" y2="398.70" stroke="#111" stroke-width="1.2" stroke-linecap="butt"/>
<line x1="667.30" y1="452.60" x2="667.30" y2="476.60" stroke="#111" stroke-width="1.1" stroke-linecap="butt"/>
<line x1="656.30" y1="452.60" x2="678.30" y2="452.60" stroke="#111" stroke-width="1.2" stroke-linecap="butt"/>
<line x1="656.30" y1="476.60" x2="678.30" y2="476.60" stroke="#111" stroke-width="1.2" stroke-linecap="butt"/>
<line x1="727.40" y1="449.00" x2="727.40" y2="466.40" stroke="#111" stroke-width="1.1" stroke-linecap="butt"/>
<line x1="716.40" y1="449.00" x2="738.40" y2="449.00" stroke="#111" stroke-width="1.2" stroke-linecap="butt"/>
<line x1="716.40" y1="466.40" x2="738.40" y2="466.40" stroke="#111" stroke-width="1.2" stroke-linecap="butt"/>
<line x1="746.00" y1="474.30" x2="746.00" y2="488.90" stroke="#111" stroke-width="1.1" stroke-linecap="butt"/>
<line x1="735.00" y1="474.30" x2="757.00" y2="474.30" stroke="#111" stroke-width="1.2" stroke-linecap="butt"/>
<line x1="735.00" y1="488.90" x2="757.00" y2="488.90" stroke="#111" stroke-width="1.2" stroke-linecap="butt"/>
<line x1="769.20" y1="439.50" x2="769.20" y2="470.10" stroke="#111" stroke-width="1.1" stroke-linecap="butt"/>
<line x1="758.20" y1="439.50" x2="780.20" y2="439.50" stroke="#111" stroke-width="1.2" stroke-linecap="butt"/>
<line x1="758.20" y1="470.10" x2="780.20" y2="470.10" stroke="#111" stroke-width="1.2" stroke-linecap="butt"/>
<line x1="814.40" y1="609.40" x2="814.40" y2="618.60" stroke="#111" stroke-width="1.1" stroke-linecap="butt"/>
<line x1="803.40" y1="609.40" x2="825.40" y2="609.40" stroke="#111" stroke-width="1.2" stroke-linecap="butt"/>
<line x1="803.40" y1="618.60" x2="825.40" y2="618.60" stroke="#111" stroke-width="1.2" stroke-linecap="butt"/>
<line x1="860.50" y1="465.90" x2="860.50" y2="542.30" stroke="#111" stroke-width="1.1" stroke-linecap="butt"/>
<line x1="849.50" y1="465.90" x2="871.50" y2="465.90" stroke="#111" stroke-width="1.2" stroke-linecap="butt"/>
<line x1="849.50" y1="542.30" x2="871.50" y2="542.30" stroke="#111" stroke-width="1.2" stroke-linecap="butt"/>
<line x1="996.60" y1="575.00" x2="996.60" y2="590.00" stroke="#111" stroke-width="1.1" stroke-linecap="butt"/>
<line x1="985.60" y1="575.00" x2="1007.60" y2="575.00" stroke="#111" stroke-width="1.2" stroke-linecap="butt"/>
<line x1="985.60" y1="590.00" x2="1007.60" y2="590.00" stroke="#111" stroke-width="1.2" stroke-linecap="butt"/>
<line x1="607.10" y1="498.20" x2="607.10" y2="507.20" stroke="#111" stroke-width="1.1" stroke-linecap="butt"/>
<line x1="596.10" y1="498.20" x2="618.10" y2="498.20" stroke="#111" stroke-width="1.2" stroke-linecap="butt"/>
<line x1="596.10" y1="507.20" x2="618.10" y2="507.20" stroke="#111" stroke-width="1.2" stroke-linecap="butt"/>
<line x1="636.90" y1="329.10" x2="636.90" y2="369.10" stroke="#111" stroke-width="1.1" stroke-linecap="butt"/>
<line x1="625.90" y1="329.10" x2="647.90" y2="329.10" stroke="#111" stroke-width="1.2" stroke-linecap="butt"/>
<line x1="625.90" y1="369.10" x2="647.90" y2="369.10" stroke="#111" stroke-width="1.2" stroke-linecap="butt"/>
<line x1="667.30" y1="423.30" x2="667.30" y2="429.30" stroke="#111" stroke-width="1.1" stroke-linecap="butt"/>
<line x1="656.30" y1="423.30" x2="678.30" y2="423.30" stroke="#111" stroke-width="1.2" stroke-linecap="butt"/>
<line x1="656.30" y1="429.30" x2="678.30" y2="429.30" stroke="#111" stroke-width="1.2" stroke-linecap="butt"/>
<line x1="727.40" y1="427.80" x2="727.40" y2="435.00" stroke="#111" stroke-width="1.1" stroke-linecap="butt"/>
<line x1="716.40" y1="427.80" x2="738.40" y2="427.80" stroke="#111" stroke-width="1.2" stroke-linecap="butt"/>
<line x1="716.40" y1="435.00" x2="738.40" y2="435.00" stroke="#111" stroke-width="1.2" stroke-linecap="butt"/>
<line x1="746.00" y1="431.10" x2="746.00" y2="442.90" stroke="#111" stroke-width="1.1" stroke-linecap="butt"/>
<line x1="735.00" y1="431.10" x2="757.00" y2="431.10" stroke="#111" stroke-width="1.2" stroke-linecap="butt"/>
<line x1="735.00" y1="442.90" x2="757.00" y2="442.90" stroke="#111" stroke-width="1.2" stroke-linecap="butt"/>
<line x1="769.20" y1="425.80" x2="769.20" y2="431.80" stroke="#111" stroke-width="1.1" stroke-linecap="butt"/>
<line x1="758.20" y1="425.80" x2="780.20" y2="425.80" stroke="#111" stroke-width="1.2" stroke-linecap="butt"/>
<line x1="758.20" y1="431.80" x2="780.20" y2="431.80" stroke="#111" stroke-width="1.2" stroke-linecap="butt"/>
<line x1="814.40" y1="605.90" x2="814.40" y2="613.90" stroke="#111" stroke-width="1.1" stroke-linecap="butt"/>
<line x1="803.40" y1="605.90" x2="825.40" y2="605.90" stroke="#111" stroke-width="1.2" stroke-linecap="butt"/>
<line x1="803.40" y1="613.90" x2="825.40" y2="613.90" stroke="#111" stroke-width="1.2" stroke-linecap="butt"/>
<line x1="860.50" y1="494.40" x2="860.50" y2="498.80" stroke="#111" stroke-width="1.1" stroke-linecap="butt"/>
<line x1="849.50" y1="494.40" x2="871.50" y2="494.40" stroke="#111" stroke-width="1.2" stroke-linecap="butt"/>
<line x1="849.50" y1="498.80" x2="871.50" y2="498.80" stroke="#111" stroke-width="1.2" stroke-linecap="butt"/>
<line x1="996.30" y1="572.70" x2="996.30" y2="588.30" stroke="#111" stroke-width="1.1" stroke-linecap="butt"/>
<line x1="985.30" y1="572.70" x2="1007.30" y2="572.70" stroke="#111" stroke-width="1.2" stroke-linecap="butt"/>
<line x1="985.30" y1="588.30" x2="1007.30" y2="588.30" stroke="#111" stroke-width="1.2" stroke-linecap="butt"/>
<text x="597.60" y="24.40" font-size="26" text-anchor="start" >b</text>
<text x="592.20" y="552.60" font-size="25.5" text-anchor="end" >15</text>
<text x="592.20" y="436.95" font-size="25.5" text-anchor="end" >20</text>
<text x="592.20" y="321.30" font-size="25.5" text-anchor="end" >25</text>
<text x="592.20" y="205.65" font-size="25.5" text-anchor="end" >30</text>
<text x="592.20" y="90.00" font-size="25.5" text-anchor="end" >35</text>
<text x="608.70" y="674.00" font-size="25.5" text-anchor="middle" >0</text>
<text x="689.00" y="674.00" font-size="25.5" text-anchor="middle" >4</text>
<text x="818.30" y="674.00" font-size="25.5" text-anchor="middle" >48</text>
<text x="909.40" y="674.00" font-size="25.5" text-anchor="middle" >96</text>
<text x="1002.90" y="674.00" font-size="25.5" text-anchor="middle" >144</text>
<text x="669.30" y="715.30" font-size="26.9" text-anchor="start" >Post-irradiation time (h)</text>
<text transform="translate(552.60,551.10) rotate(-90)" font-size="27.0" x="0" y="0">Superoxide dismutase (U/ mg protein)</text>
<line x1="69.20" y1="765.20" x2="211.05" y2="765.20" stroke="#000" stroke-width="2.4" stroke-linecap="butt"/>
<line x1="217.95" y1="765.20" x2="479.40" y2="765.20" stroke="#000" stroke-width="2.4" stroke-linecap="butt"/>
<line x1="69.20" y1="1370.30" x2="211.05" y2="1370.30" stroke="#000" stroke-width="2.4" stroke-linecap="butt"/>
<line x1="217.95" y1="1370.30" x2="479.40" y2="1370.30" stroke="#000" stroke-width="2.4" stroke-linecap="butt"/>
<line x1="70.40" y1="765.20" x2="70.40" y2="1370.30" stroke="#000" stroke-width="2.4" stroke-linecap="butt"/>
<line x1="478.20" y1="765.20" x2="478.20" y2="1370.30" stroke="#000" stroke-width="2.4" stroke-linecap="butt"/>
<line x1="214.70" y1="753.20" x2="207.40" y2="777.20" stroke="#000" stroke-width="2.3" stroke-linecap="butt"/>
<line x1="221.60" y1="753.20" x2="214.30" y2="777.20" stroke="#000" stroke-width="2.3" stroke-linecap="butt"/>
<line x1="214.70" y1="1358.30" x2="207.40" y2="1382.30" stroke="#000" stroke-width="2.3" stroke-linecap="butt"/>
<line x1="221.60" y1="1358.30" x2="214.30" y2="1382.30" stroke="#000" stroke-width="2.3" stroke-linecap="butt"/>
<line x1="80.10" y1="765.20" x2="80.10" y2="776.70" stroke="#000" stroke-width="2.2" stroke-linecap="butt"/>
<line x1="80.10" y1="1370.30" x2="80.10" y2="1358.80" stroke="#000" stroke-width="2.2" stroke-linecap="butt"/>
<line x1="119.80" y1="765.20" x2="119.80" y2="771.20" stroke="#000" stroke-width="2.2" stroke-linecap="butt"/>
<line x1="119.80" y1="1370.30" x2="119.80" y2="1364.30" stroke="#000" stroke-width="2.2" stroke-linecap="butt"/>
<line x1="159.90" y1="765.20" x2="159.90" y2="776.70" stroke="#000" stroke-width="2.2" stroke-linecap="butt"/>
<line x1="159.90" y1="1370.30" x2="159.90" y2="1358.80" stroke="#000" stroke-width="2.2" stroke-linecap="butt"/>
<line x1="199.80" y1="765.20" x2="199.80" y2="771.20" stroke="#000" stroke-width="2.2" stroke-linecap="butt"/>
<line x1="199.80" y1="1370.30" x2="199.80" y2="1364.30" stroke="#000" stroke-width="2.2" stroke-linecap="butt"/>
<line x1="286.50" y1="765.20" x2="286.50" y2="776.70" stroke="#000" stroke-width="2.2" stroke-linecap="butt"/>
<line x1="286.50" y1="1370.30" x2="286.50" y2="1358.80" stroke="#000" stroke-width="2.2" stroke-linecap="butt"/>
<line x1="331.70" y1="765.20" x2="331.70" y2="771.20" stroke="#000" stroke-width="2.2" stroke-linecap="butt"/>
<line x1="331.70" y1="1370.30" x2="331.70" y2="1364.30" stroke="#000" stroke-width="2.2" stroke-linecap="butt"/>
<line x1="376.70" y1="765.20" x2="376.70" y2="776.70" stroke="#000" stroke-width="2.2" stroke-linecap="butt"/>
<line x1="376.70" y1="1370.30" x2="376.70" y2="1358.80" stroke="#000" stroke-width="2.2" stroke-linecap="butt"/>
<line x1="422.40" y1="765.20" x2="422.40" y2="771.20" stroke="#000" stroke-width="2.2" stroke-linecap="butt"/>
<line x1="422.40" y1="1370.30" x2="422.40" y2="1364.30" stroke="#000" stroke-width="2.2" stroke-linecap="butt"/>
<line x1="467.40" y1="765.20" x2="467.40" y2="776.70" stroke="#000" stroke-width="2.2" stroke-linecap="butt"/>
<line x1="467.40" y1="1370.30" x2="467.40" y2="1358.80" stroke="#000" stroke-width="2.2" stroke-linecap="butt"/>
<line x1="70.40" y1="1320.10" x2="81.90" y2="1320.10" stroke="#000" stroke-width="2.2" stroke-linecap="butt"/>
<line x1="478.20" y1="1320.10" x2="466.70" y2="1320.10" stroke="#000" stroke-width="2.2" stroke-linecap="butt"/>
<line x1="70.40" y1="1221.10" x2="76.40" y2="1221.10" stroke="#000" stroke-width="2.2" stroke-linecap="butt"/>
<line x1="478.20" y1="1221.10" x2="472.20" y2="1221.10" stroke="#000" stroke-width="2.2" stroke-linecap="butt"/>
<line x1="70.40" y1="1122.10" x2="81.90" y2="1122.10" stroke="#000" stroke-width="2.2" stroke-linecap="butt"/>
<line x1="478.20" y1="1122.10" x2="466.70" y2="1122.10" stroke="#000" stroke-width="2.2" stroke-linecap="butt"/>
<line x1="70.40" y1="1023.10" x2="76.40" y2="1023.10" stroke="#000" stroke-width="2.2" stroke-linecap="butt"/>
<line x1="478.20" y1="1023.10" x2="472.20" y2="1023.10" stroke="#000" stroke-width="2.2" stroke-linecap="butt"/>
<line x1="70.40" y1="924.10" x2="81.90" y2="924.10" stroke="#000" stroke-width="2.2" stroke-linecap="butt"/>
<line x1="478.20" y1="924.10" x2="466.70" y2="924.10" stroke="#000" stroke-width="2.2" stroke-linecap="butt"/>
<line x1="70.40" y1="825.10" x2="76.40" y2="825.10" stroke="#000" stroke-width="2.2" stroke-linecap="butt"/>
<line x1="478.20" y1="825.10" x2="472.20" y2="825.10" stroke="#000" stroke-width="2.2" stroke-linecap="butt"/>
<path d="M80.10,1082.50 L110.00,853.00 L139.90,1033.80 L199.80,1037.10 L218.40,1117.80 L241.00,867.70 L286.50,908.40 L331.70,937.60 L467.60,1075.90" fill="none" stroke="#000" stroke-width="2.3" stroke-linejoin="miter" stroke-miterlimit="3"/>
<path d="M80.10,1022.90 L110.00,797.30 L139.90,983.40 L199.80,980.10 L218.40,1066.40 L241.00,824.30 L286.50,879.20 L331.70,895.70 L467.60,1044.10" fill="none" stroke="#000" stroke-width="2.3" stroke-linejoin="miter" stroke-miterlimit="3"/>
<path d="M80.10,1321.00 L110.00,1196.00 L140.30,1269.90 L199.80,1281.00 L218.40,1290.40 L241.20,1274.80 L286.50,1342.50 L331.70,1271.50 L467.60,1331.50" fill="none" stroke="#000" stroke-width="2.3" stroke-linejoin="miter" stroke-miterlimit="3"/>
<path d="M80.10,1261.50 L110.00,1135.80 L140.30,1217.10 L199.80,1235.70 L218.40,1267.90 L241.10,1272.70 L286.50,1341.20 L331.70,1270.90 L467.60,1331.10" fill="none" stroke="#000" stroke-width="2.3" stroke-linejoin="miter" stroke-miterlimit="3"/>
<rect x="74.40" y="1076.33" width="11.40" height="12.35" fill="#000"/>
<rect x="104.30" y="846.83" width="11.40" height="12.35" fill="#000"/>
<rect x="134.20" y="1027.62" width="11.40" height="12.35" fill="#000"/>
<rect x="194.10" y="1030.92" width="11.40" height="12.35" fill="#000"/>
<rect x="212.70" y="1111.62" width="11.40" height="12.35" fill="#000"/>
<rect x="235.30" y="861.53" width="11.40" height="12.35" fill="#000"/>
<rect x="280.80" y="902.23" width="11.40" height="12.35" fill="#000"/>
<rect x="326.00" y="931.43" width="11.40" height="12.35" fill="#000"/>
<rect x="461.90" y="1069.73" width="11.40" height="12.35" fill="#000"/>
<rect x="75.15" y="1017.57" width="9.90" height="10.66" fill="#fff" stroke="#000" stroke-width="1.5"/>
<rect x="105.05" y="791.97" width="9.90" height="10.66" fill="#fff" stroke="#000" stroke-width="1.5"/>
<rect x="134.95" y="978.07" width="9.90" height="10.66" fill="#fff" stroke="#000" stroke-width="1.5"/>
<rect x="194.85" y="974.77" width="9.90" height="10.66" fill="#fff" stroke="#000" stroke-width="1.5"/>
<rect x="213.45" y="1061.07" width="9.90" height="10.66" fill="#fff" stroke="#000" stroke-width="1.5"/>
<rect x="236.05" y="818.97" width="9.90" height="10.66" fill="#fff" stroke="#000" stroke-width="1.5"/>
<rect x="281.55" y="873.87" width="9.90" height="10.66" fill="#fff" stroke="#000" stroke-width="1.5"/>
<rect x="326.75" y="890.37" width="9.90" height="10.66" fill="#fff" stroke="#000" stroke-width="1.5"/>
<rect x="462.65" y="1038.77" width="9.90" height="10.66" fill="#fff" stroke="#000" stroke-width="1.5"/>
<ellipse cx="80.10" cy="1321.00" rx="7.14" ry="7.56" fill="#000"/>
<ellipse cx="110.00" cy="1196.00" rx="7.14" ry="7.56" fill="#000"/>
<ellipse cx="140.30" cy="1269.90" rx="7.14" ry="7.56" fill="#000"/>
<ellipse cx="199.80" cy="1281.00" rx="7.14" ry="7.56" fill="#000"/>
<ellipse cx="218.40" cy="1290.40" rx="7.14" ry="7.56" fill="#000"/>
<ellipse cx="241.20" cy="1274.80" rx="7.14" ry="7.56" fill="#000"/>
<ellipse cx="286.50" cy="1342.50" rx="7.14" ry="7.56" fill="#000"/>
<ellipse cx="331.70" cy="1271.50" rx="7.14" ry="7.56" fill="#000"/>
<ellipse cx="467.60" cy="1331.50" rx="7.14" ry="7.56" fill="#000"/>
<ellipse cx="80.10" cy="1261.50" rx="6.18" ry="6.50" fill="#fff" stroke="#000" stroke-width="1.5"/>
<ellipse cx="110.00" cy="1135.80" rx="6.18" ry="6.50" fill="#fff" stroke="#000" stroke-width="1.5"/>
<ellipse cx="140.30" cy="1217.10" rx="6.18" ry="6.50" fill="#fff" stroke="#000" stroke-width="1.5"/>
<ellipse cx="199.80" cy="1235.70" rx="6.18" ry="6.50" fill="#fff" stroke="#000" stroke-width="1.5"/>
<ellipse cx="218.40" cy="1267.90" rx="6.18" ry="6.50" fill="#fff" stroke="#000" stroke-width="1.5"/>
<ellipse cx="241.10" cy="1272.70" rx="6.18" ry="6.50" fill="#fff" stroke="#000" stroke-width="1.5"/>
<ellipse cx="286.50" cy="1341.20" rx="6.18" ry="6.50" fill="#fff" stroke="#000" stroke-width="1.5"/>
<ellipse cx="331.70" cy="1270.90" rx="6.18" ry="6.50" fill="#fff" stroke="#000" stroke-width="1.5"/>
<ellipse cx="467.60" cy="1331.10" rx="6.18" ry="6.50" fill="#fff" stroke="#000" stroke-width="1.5"/>
<line x1="80.10" y1="1072.50" x2="80.10" y2="1092.50" stroke="#111" stroke-width="1.1" stroke-linecap="butt"/>
<line x1="69.10" y1="1072.50" x2="91.10" y2="1072.50" stroke="#111" stroke-width="1.2" stroke-linecap="butt"/>
<line x1="69.10" y1="1092.50" x2="91.10" y2="1092.50" stroke="#111" stroke-width="1.2" stroke-linecap="butt"/>
<line x1="110.00" y1="841.80" x2="110.00" y2="864.20" stroke="#111" stroke-width="1.1" stroke-linecap="butt"/>
<line x1="99.00" y1="841.80" x2="121.00" y2="841.80" stroke="#111" stroke-width="1.2" stroke-linecap="butt"/>
<line x1="99.00" y1="864.20" x2="121.00" y2="864.20" stroke="#111" stroke-width="1.2" stroke-linecap="butt"/>
<line x1="139.90" y1="1022.60" x2="139.90" y2="1045.00" stroke="#111" stroke-width="1.1" stroke-linecap="butt"/>
<line x1="128.90" y1="1022.60" x2="150.90" y2="1022.60" stroke="#111" stroke-width="1.2" stroke-linecap="butt"/>
<line x1="128.90" y1="1045.00" x2="150.90" y2="1045.00" stroke="#111" stroke-width="1.2" stroke-linecap="butt"/>
<line x1="199.80" y1="1025.70" x2="199.80" y2="1048.50" stroke="#111" stroke-width="1.1" stroke-linecap="butt"/>
<line x1="188.80" y1="1025.70" x2="210.80" y2="1025.70" stroke="#111" stroke-width="1.2" stroke-linecap="butt"/>
<line x1="188.80" y1="1048.50" x2="210.80" y2="1048.50" stroke="#111" stroke-width="1.2" stroke-linecap="butt"/>
<line x1="218.40" y1="1106.80" x2="218.40" y2="1128.80" stroke="#111" stroke-width="1.1" stroke-linecap="butt"/>
<line x1="207.40" y1="1106.80" x2="229.40" y2="1106.80" stroke="#111" stroke-width="1.2" stroke-linecap="butt"/>
<line x1="207.40" y1="1128.80" x2="229.40" y2="1128.80" stroke="#111" stroke-width="1.2" stroke-linecap="butt"/>
<line x1="241.00" y1="857.20" x2="241.00" y2="878.20" stroke="#111" stroke-width="1.1" stroke-linecap="butt"/>
<line x1="230.00" y1="857.20" x2="252.00" y2="857.20" stroke="#111" stroke-width="1.2" stroke-linecap="butt"/>
<line x1="230.00" y1="878.20" x2="252.00" y2="878.20" stroke="#111" stroke-width="1.2" stroke-linecap="butt"/>
<line x1="286.50" y1="897.00" x2="286.50" y2="919.80" stroke="#111" stroke-width="1.1" stroke-linecap="butt"/>
<line x1="275.50" y1="897.00" x2="297.50" y2="897.00" stroke="#111" stroke-width="1.2" stroke-linecap="butt"/>
<line x1="275.50" y1="919.80" x2="297.50" y2="919.80" stroke="#111" stroke-width="1.2" stroke-linecap="butt"/>
<line x1="331.70" y1="926.70" x2="331.70" y2="948.50" stroke="#111" stroke-width="1.1" stroke-linecap="butt"/>
<line x1="320.70" y1="926.70" x2="342.70" y2="926.70" stroke="#111" stroke-width="1.2" stroke-linecap="butt"/>
<line x1="320.70" y1="948.50" x2="342.70" y2="948.50" stroke="#111" stroke-width="1.2" stroke-linecap="butt"/>
<line x1="467.60" y1="1065.50" x2="467.60" y2="1086.30" stroke="#111" stroke-width="1.1" stroke-linecap="butt"/>
<line x1="456.60" y1="1065.50" x2="478.60" y2="1065.50" stroke="#111" stroke-width="1.2" stroke-linecap="butt"/>
<line x1="456.60" y1="1086.30" x2="478.60" y2="1086.30" stroke="#111" stroke-width="1.2" stroke-linecap="butt"/>
<line x1="80.10" y1="1013.00" x2="80.10" y2="1032.80" stroke="#111" stroke-width="1.1" stroke-linecap="butt"/>
<line x1="69.10" y1="1013.00" x2="91.10" y2="1013.00" stroke="#111" stroke-width="1.2" stroke-linecap="butt"/>
<line x1="69.10" y1="1032.80" x2="91.10" y2="1032.80" stroke="#111" stroke-width="1.2" stroke-linecap="butt"/>
<line x1="110.00" y1="785.60" x2="110.00" y2="809.00" stroke="#111" stroke-width="1.1" stroke-linecap="butt"/>
<line x1="99.00" y1="785.60" x2="121.00" y2="785.60" stroke="#111" stroke-width="1.2" stroke-linecap="butt"/>
<line x1="99.00" y1="809.00" x2="121.00" y2="809.00" stroke="#111" stroke-width="1.2" stroke-linecap="butt"/>
<line x1="139.90" y1="972.90" x2="139.90" y2="993.90" stroke="#111" stroke-width="1.1" stroke-linecap="butt"/>
<line x1="128.90" y1="972.90" x2="150.90" y2="972.90" stroke="#111" stroke-width="1.2" stroke-linecap="butt"/>
<line x1="128.90" y1="993.90" x2="150.90" y2="993.90" stroke="#111" stroke-width="1.2" stroke-linecap="butt"/>
<line x1="199.80" y1="968.40" x2="199.80" y2="991.80" stroke="#111" stroke-width="1.1" stroke-linecap="butt"/>
<line x1="188.80" y1="968.40" x2="210.80" y2="968.40" stroke="#111" stroke-width="1.2" stroke-linecap="butt"/>
<line x1="188.80" y1="991.80" x2="210.80" y2="991.80" stroke="#111" stroke-width="1.2" stroke-linecap="butt"/>
<line x1="218.40" y1="1056.20" x2="218.40" y2="1076.60" stroke="#111" stroke-width="1.1" stroke-linecap="butt"/>
<line x1="207.40" y1="1056.20" x2="229.40" y2="1056.20" stroke="#111" stroke-width="1.2" stroke-linecap="butt"/>
<line x1="207.40" y1="1076.60" x2="229.40" y2="1076.60" stroke="#111" stroke-width="1.2" stroke-linecap="butt"/>
<line x1="241.00" y1="814.00" x2="241.00" y2="834.60" stroke="#111" stroke-width="1.1" stroke-linecap="butt"/>
<line x1="230.00" y1="814.00" x2="252.00" y2="814.00" stroke="#111" stroke-width="1.2" stroke-linecap="butt"/>
<line x1="230.00" y1="834.60" x2="252.00" y2="834.60" stroke="#111" stroke-width="1.2" stroke-linecap="butt"/>
<line x1="286.50" y1="868.80" x2="286.50" y2="889.60" stroke="#111" stroke-width="1.1" stroke-linecap="butt"/>
<line x1="275.50" y1="868.80" x2="297.50" y2="868.80" stroke="#111" stroke-width="1.2" stroke-linecap="butt"/>
<line x1="275.50" y1="889.60" x2="297.50" y2="889.60" stroke="#111" stroke-width="1.2" stroke-linecap="butt"/>
<line x1="331.70" y1="885.20" x2="331.70" y2="906.20" stroke="#111" stroke-width="1.1" stroke-linecap="butt"/>
<line x1="320.70" y1="885.20" x2="342.70" y2="885.20" stroke="#111" stroke-width="1.2" stroke-linecap="butt"/>
<line x1="320.70" y1="906.20" x2="342.70" y2="906.20" stroke="#111" stroke-width="1.2" stroke-linecap="butt"/>
<line x1="467.60" y1="1033.70" x2="467.60" y2="1054.50" stroke="#111" stroke-width="1.1" stroke-linecap="butt"/>
<line x1="456.60" y1="1033.70" x2="478.60" y2="1033.70" stroke="#111" stroke-width="1.2" stroke-linecap="butt"/>
<line x1="456.60" y1="1054.50" x2="478.60" y2="1054.50" stroke="#111" stroke-width="1.2" stroke-linecap="butt"/>
<line x1="80.10" y1="1304.00" x2="80.10" y2="1338.00" stroke="#111" stroke-width="1.1" stroke-linecap="butt"/>
<line x1="69.10" y1="1304.00" x2="91.10" y2="1304.00" stroke="#111" stroke-width="1.2" stroke-linecap="butt"/>
<line x1="69.10" y1="1338.00" x2="91.10" y2="1338.00" stroke="#111" stroke-width="1.2" stroke-linecap="butt"/>
<line x1="110.00" y1="1184.80" x2="110.00" y2="1207.20" stroke="#111" stroke-width="1.1" stroke-linecap="butt"/>
<line x1="99.00" y1="1184.80" x2="121.00" y2="1184.80" stroke="#111" stroke-width="1.2" stroke-linecap="butt"/>
<line x1="99.00" y1="1207.20" x2="121.00" y2="1207.20" stroke="#111" stroke-width="1.2" stroke-linecap="butt"/>
<line x1="140.30" y1="1258.20" x2="140.30" y2="1281.60" stroke="#111" stroke-width="1.1" stroke-linecap="butt"/>
<line x1="129.30" y1="1258.20" x2="151.30" y2="1258.20" stroke="#111" stroke-width="1.2" stroke-linecap="butt"/>
<line x1="129.30" y1="1281.60" x2="151.30" y2="1281.60" stroke="#111" stroke-width="1.2" stroke-linecap="butt"/>
<line x1="199.80" y1="1270.30" x2="199.80" y2="1291.70" stroke="#111" stroke-width="1.1" stroke-linecap="butt"/>
<line x1="188.80" y1="1270.30" x2="210.80" y2="1270.30" stroke="#111" stroke-width="1.2" stroke-linecap="butt"/>
<line x1="188.80" y1="1291.70" x2="210.80" y2="1291.70" stroke="#111" stroke-width="1.2" stroke-linecap="butt"/>
<line x1="218.40" y1="1279.90" x2="218.40" y2="1300.90" stroke="#111" stroke-width="1.1" stroke-linecap="butt"/>
<line x1="207.40" y1="1279.90" x2="229.40" y2="1279.90" stroke="#111" stroke-width="1.2" stroke-linecap="butt"/>
<line x1="207.40" y1="1300.90" x2="229.40" y2="1300.90" stroke="#111" stroke-width="1.2" stroke-linecap="butt"/>
<line x1="241.20" y1="1264.30" x2="241.20" y2="1285.30" stroke="#111" stroke-width="1.1" stroke-linecap="butt"/>
<line x1="230.20" y1="1264.30" x2="252.20" y2="1264.30" stroke="#111" stroke-width="1.2" stroke-linecap="butt"/>
<line x1="230.20" y1="1285.30" x2="252.20" y2="1285.30" stroke="#111" stroke-width="1.2" stroke-linecap="butt"/>
<line x1="286.50" y1="1332.00" x2="286.50" y2="1353.00" stroke="#111" stroke-width="1.1" stroke-linecap="butt"/>
<line x1="275.50" y1="1332.00" x2="297.50" y2="1332.00" stroke="#111" stroke-width="1.2" stroke-linecap="butt"/>
<line x1="275.50" y1="1353.00" x2="297.50" y2="1353.00" stroke="#111" stroke-width="1.2" stroke-linecap="butt"/>
<line x1="331.70" y1="1261.00" x2="331.70" y2="1282.00" stroke="#111" stroke-width="1.1" stroke-linecap="butt"/>
<line x1="320.70" y1="1261.00" x2="342.70" y2="1261.00" stroke="#111" stroke-width="1.2" stroke-linecap="butt"/>
<line x1="320.70" y1="1282.00" x2="342.70" y2="1282.00" stroke="#111" stroke-width="1.2" stroke-linecap="butt"/>
<line x1="467.60" y1="1321.30" x2="467.60" y2="1341.70" stroke="#111" stroke-width="1.1" stroke-linecap="butt"/>
<line x1="456.60" y1="1321.30" x2="478.60" y2="1321.30" stroke="#111" stroke-width="1.2" stroke-linecap="butt"/>
<line x1="456.60" y1="1341.70" x2="478.60" y2="1341.70" stroke="#111" stroke-width="1.2" stroke-linecap="butt"/>
<line x1="80.10" y1="1249.00" x2="80.10" y2="1274.00" stroke="#111" stroke-width="1.1" stroke-linecap="butt"/>
<line x1="69.10" y1="1249.00" x2="91.10" y2="1249.00" stroke="#111" stroke-width="1.2" stroke-linecap="butt"/>
<line x1="69.10" y1="1274.00" x2="91.10" y2="1274.00" stroke="#111" stroke-width="1.2" stroke-linecap="butt"/>
<line x1="110.00" y1="1124.80" x2="110.00" y2="1146.80" stroke="#111" stroke-width="1.1" stroke-linecap="butt"/>
<line x1="99.00" y1="1124.80" x2="121.00" y2="1124.80" stroke="#111" stroke-width="1.2" stroke-linecap="butt"/>
<line x1="99.00" y1="1146.80" x2="121.00" y2="1146.80" stroke="#111" stroke-width="1.2" stroke-linecap="butt"/>
<line x1="140.30" y1="1206.40" x2="140.30" y2="1227.80" stroke="#111" stroke-width="1.1" stroke-linecap="butt"/>
<line x1="129.30" y1="1206.40" x2="151.30" y2="1206.40" stroke="#111" stroke-width="1.2" stroke-linecap="butt"/>
<line x1="129.30" y1="1227.80" x2="151.30" y2="1227.80" stroke="#111" stroke-width="1.2" stroke-linecap="butt"/>
<line x1="199.80" y1="1226.20" x2="199.80" y2="1245.20" stroke="#111" stroke-width="1.1" stroke-linecap="butt"/>
<line x1="188.80" y1="1226.20" x2="210.80" y2="1226.20" stroke="#111" stroke-width="1.2" stroke-linecap="butt"/>
<line x1="188.80" y1="1245.20" x2="210.80" y2="1245.20" stroke="#111" stroke-width="1.2" stroke-linecap="butt"/>
<line x1="218.40" y1="1258.90" x2="218.40" y2="1276.90" stroke="#111" stroke-width="1.1" stroke-linecap="butt"/>
<line x1="207.40" y1="1258.90" x2="229.40" y2="1258.90" stroke="#111" stroke-width="1.2" stroke-linecap="butt"/>
<line x1="207.40" y1="1276.90" x2="229.40" y2="1276.90" stroke="#111" stroke-width="1.2" stroke-linecap="butt"/>
<line x1="241.10" y1="1262.70" x2="241.10" y2="1282.70" stroke="#111" stroke-width="1.1" stroke-linecap="butt"/>
<line x1="230.10" y1="1262.70" x2="252.10" y2="1262.70" stroke="#111" stroke-width="1.2" stroke-linecap="butt"/>
<line x1="230.10" y1="1282.70" x2="252.10" y2="1282.70" stroke="#111" stroke-width="1.2" stroke-linecap="butt"/>
<line x1="286.50" y1="1330.70" x2="286.50" y2="1351.70" stroke="#111" stroke-width="1.1" stroke-linecap="butt"/>
<line x1="275.50" y1="1330.70" x2="297.50" y2="1330.70" stroke="#111" stroke-width="1.2" stroke-linecap="butt"/>
<line x1="275.50" y1="1351.70" x2="297.50" y2="1351.70" stroke="#111" stroke-width="1.2" stroke-linecap="butt"/>
<line x1="331.70" y1="1259.90" x2="331.70" y2="1281.90" stroke="#111" stroke-width="1.1" stroke-linecap="butt"/>
<line x1="320.70" y1="1259.90" x2="342.70" y2="1259.90" stroke="#111" stroke-width="1.2" stroke-linecap="butt"/>
<line x1="320.70" y1="1281.90" x2="342.70" y2="1281.90" stroke="#111" stroke-width="1.2" stroke-linecap="butt"/>
<line x1="467.60" y1="1320.90" x2="467.60" y2="1341.30" stroke="#111" stroke-width="1.1" stroke-linecap="butt"/>
<line x1="456.60" y1="1320.90" x2="478.60" y2="1320.90" stroke="#111" stroke-width="1.2" stroke-linecap="butt"/>
<line x1="456.60" y1="1341.30" x2="478.60" y2="1341.30" stroke="#111" stroke-width="1.2" stroke-linecap="butt"/>
<text x="70.40" y="754.20" font-size="26" text-anchor="start" >c</text>
<text x="67.40" y="1330.90" font-size="25.5" text-anchor="end" >10</text>
<text x="67.40" y="1132.90" font-size="25.5" text-anchor="end" >20</text>
<text x="67.40" y="934.90" font-size="25.5" text-anchor="end" >30</text>
<text x="81.70" y="1405.20" font-size="25.5" text-anchor="middle" >0</text>
<text x="161.50" y="1405.20" font-size="25.5" text-anchor="middle" >4</text>
<text x="289.80" y="1405.20" font-size="25.5" text-anchor="middle" >48</text>
<text x="380.60" y="1405.20" font-size="25.5" text-anchor="middle" >96</text>
<text x="473.10" y="1405.20" font-size="25.5" text-anchor="middle" >144</text>
<text x="141.60" y="1445.70" font-size="26.9" text-anchor="start" >Post-irradiation time (h)</text>
<text transform="translate(27.30,1261.50) rotate(-90)" font-size="27.0" x="0" y="0">Superoxide dismutase (U/ mg protein)</text>
<rect x="606.0" y="763.6" width="406.9" height="607.1999999999999" fill="none" stroke="#000" stroke-width="2.4"/>
<line x1="634.00" y1="763.60" x2="634.00" y2="775.10" stroke="#000" stroke-width="2.2" stroke-linecap="butt"/>
<line x1="634.00" y1="1370.80" x2="634.00" y2="1359.30" stroke="#000" stroke-width="2.2" stroke-linecap="butt"/>
<line x1="692.50" y1="763.60" x2="692.50" y2="769.60" stroke="#000" stroke-width="2.2" stroke-linecap="butt"/>
<line x1="692.50" y1="1370.80" x2="692.50" y2="1364.80" stroke="#000" stroke-width="2.2" stroke-linecap="butt"/>
<line x1="750.80" y1="763.60" x2="750.80" y2="775.10" stroke="#000" stroke-width="2.2" stroke-linecap="butt"/>
<line x1="750.80" y1="1370.80" x2="750.80" y2="1359.30" stroke="#000" stroke-width="2.2" stroke-linecap="butt"/>
<line x1="809.00" y1="763.60" x2="809.00" y2="769.60" stroke="#000" stroke-width="2.2" stroke-linecap="butt"/>
<line x1="809.00" y1="1370.80" x2="809.00" y2="1364.80" stroke="#000" stroke-width="2.2" stroke-linecap="butt"/>
<line x1="867.20" y1="763.60" x2="867.20" y2="775.10" stroke="#000" stroke-width="2.2" stroke-linecap="butt"/>
<line x1="867.20" y1="1370.80" x2="867.20" y2="1359.30" stroke="#000" stroke-width="2.2" stroke-linecap="butt"/>
<line x1="925.60" y1="763.60" x2="925.60" y2="769.60" stroke="#000" stroke-width="2.2" stroke-linecap="butt"/>
<line x1="925.60" y1="1370.80" x2="925.60" y2="1364.80" stroke="#000" stroke-width="2.2" stroke-linecap="butt"/>
<line x1="983.80" y1="763.60" x2="983.80" y2="775.10" stroke="#000" stroke-width="2.2" stroke-linecap="butt"/>
<line x1="983.80" y1="1370.80" x2="983.80" y2="1359.30" stroke="#000" stroke-width="2.2" stroke-linecap="butt"/>
<line x1="606.00" y1="1334.12" x2="617.50" y2="1334.12" stroke="#000" stroke-width="2.2" stroke-linecap="butt"/>
<line x1="1012.90" y1="1334.12" x2="1001.40" y2="1334.12" stroke="#000" stroke-width="2.2" stroke-linecap="butt"/>
<line x1="606.00" y1="1259.60" x2="612.00" y2="1259.60" stroke="#000" stroke-width="2.2" stroke-linecap="butt"/>
<line x1="1012.90" y1="1259.60" x2="1006.90" y2="1259.60" stroke="#000" stroke-width="2.2" stroke-linecap="butt"/>
<line x1="606.00" y1="1185.08" x2="617.50" y2="1185.08" stroke="#000" stroke-width="2.2" stroke-linecap="butt"/>
<line x1="1012.90" y1="1185.08" x2="1001.40" y2="1185.08" stroke="#000" stroke-width="2.2" stroke-linecap="butt"/>
<line x1="606.00" y1="1110.56" x2="612.00" y2="1110.56" stroke="#000" stroke-width="2.2" stroke-linecap="butt"/>
<line x1="1012.90" y1="1110.56" x2="1006.90" y2="1110.56" stroke="#000" stroke-width="2.2" stroke-linecap="butt"/>
<line x1="606.00" y1="1036.04" x2="617.50" y2="1036.04" stroke="#000" stroke-width="2.2" stroke-linecap="butt"/>
<line x1="1012.90" y1="1036.04" x2="1001.40" y2="1036.04" stroke="#000" stroke-width="2.2" stroke-linecap="butt"/>
<line x1="606.00" y1="961.52" x2="612.00" y2="961.52" stroke="#000" stroke-width="2.2" stroke-linecap="butt"/>
<line x1="1012.90" y1="961.52" x2="1006.90" y2="961.52" stroke="#000" stroke-width="2.2" stroke-linecap="butt"/>
<line x1="606.00" y1="887.00" x2="617.50" y2="887.00" stroke="#000" stroke-width="2.2" stroke-linecap="butt"/>
<line x1="1012.90" y1="887.00" x2="1001.40" y2="887.00" stroke="#000" stroke-width="2.2" stroke-linecap="butt"/>
<line x1="606.00" y1="812.48" x2="612.00" y2="812.48" stroke="#000" stroke-width="2.2" stroke-linecap="butt"/>
<line x1="1012.90" y1="812.48" x2="1006.90" y2="812.48" stroke="#000" stroke-width="2.2" stroke-linecap="butt"/>
<line x1="606.0" y1="829.5" x2="1011.9" y2="1207.6" stroke="#000" stroke-width="1.15"/>
<line x1="606.0" y1="907.8" x2="1011.9" y2="1272.1" stroke="#000" stroke-width="1.15"/>
<line x1="606.0" y1="1042.9" x2="1011.9" y2="1343.5" stroke="#000" stroke-width="1.15"/>
<line x1="606.0" y1="1092.0" x2="1011.9" y2="1339.3" stroke="#000" stroke-width="1.15"/>
<line x1="606.0" y1="1092.0" x2="1011.9" y2="1348.3" stroke="#000" stroke-width="1.15"/>
<line x1="606.0" y1="1128.9" x2="1011.9" y2="1341.6" stroke="#000" stroke-width="1.15"/>
<line x1="983.90" y1="1310.00" x2="983.90" y2="1317.50" stroke="#111" stroke-width="1.1" stroke-linecap="butt"/>
<line x1="983.90" y1="1330.50" x2="983.90" y2="1335.90" stroke="#111" stroke-width="1.1" stroke-linecap="butt"/>
<line x1="972.90" y1="1310.00" x2="994.90" y2="1310.00" stroke="#111" stroke-width="1.2" stroke-linecap="butt"/>
<line x1="972.90" y1="1335.90" x2="994.90" y2="1335.90" stroke="#111" stroke-width="1.2" stroke-linecap="butt"/>
<line x1="983.90" y1="1310.00" x2="983.90" y2="1316.00" stroke="#111" stroke-width="1.1" stroke-linecap="butt"/>
<line x1="983.90" y1="1330.00" x2="983.90" y2="1335.90" stroke="#111" stroke-width="1.1" stroke-linecap="butt"/>
<line x1="972.90" y1="1310.00" x2="994.90" y2="1310.00" stroke="#111" stroke-width="1.2" stroke-linecap="butt"/>
<line x1="972.90" y1="1335.90" x2="994.90" y2="1335.90" stroke="#111" stroke-width="1.2" stroke-linecap="butt"/>
<line x1="983.90" y1="1308.10" x2="983.90" y2="1322.50" stroke="#111" stroke-width="1.1" stroke-linecap="butt"/>
<line x1="983.90" y1="1335.80" x2="983.90" y2="1340.50" stroke="#111" stroke-width="1.1" stroke-linecap="butt"/>
<line x1="972.90" y1="1308.10" x2="994.90" y2="1308.10" stroke="#111" stroke-width="1.2" stroke-linecap="butt"/>
<line x1="972.90" y1="1340.50" x2="994.90" y2="1340.50" stroke="#111" stroke-width="1.2" stroke-linecap="butt"/>
<line x1="983.90" y1="1312.00" x2="983.90" y2="1313.00" stroke="#111" stroke-width="1.1" stroke-linecap="butt"/>
<line x1="983.90" y1="1326.00" x2="983.90" y2="1333.20" stroke="#111" stroke-width="1.1" stroke-linecap="butt"/>
<line x1="972.90" y1="1312.00" x2="994.90" y2="1312.00" stroke="#111" stroke-width="1.2" stroke-linecap="butt"/>
<line x1="972.90" y1="1333.20" x2="994.90" y2="1333.20" stroke="#111" stroke-width="1.2" stroke-linecap="butt"/>
<line x1="634.30" y1="879.50" x2="634.30" y2="883.00" stroke="#111" stroke-width="1.1" stroke-linecap="butt"/>
<line x1="634.30" y1="896.90" x2="634.30" y2="905.90" stroke="#111" stroke-width="1.1" stroke-linecap="butt"/>
<line x1="623.30" y1="879.50" x2="645.30" y2="879.50" stroke="#111" stroke-width="1.2" stroke-linecap="butt"/>
<line x1="623.30" y1="905.90" x2="645.30" y2="905.90" stroke="#111" stroke-width="1.2" stroke-linecap="butt"/>
<line x1="750.90" y1="1103.00" x2="750.90" y2="1105.50" stroke="#111" stroke-width="1.1" stroke-linecap="butt"/>
<line x1="739.90" y1="1091.30" x2="761.90" y2="1091.30" stroke="#111" stroke-width="1.2" stroke-linecap="butt"/>
<line x1="739.90" y1="1105.50" x2="761.90" y2="1105.50" stroke="#111" stroke-width="1.2" stroke-linecap="butt"/>
<line x1="983.90" y1="1213.10" x2="983.90" y2="1217.20" stroke="#111" stroke-width="1.1" stroke-linecap="butt"/>
<line x1="983.90" y1="1231.50" x2="983.90" y2="1241.00" stroke="#111" stroke-width="1.1" stroke-linecap="butt"/>
<line x1="972.90" y1="1213.10" x2="994.90" y2="1213.10" stroke="#111" stroke-width="1.2" stroke-linecap="butt"/>
<line x1="972.90" y1="1241.00" x2="994.90" y2="1241.00" stroke="#111" stroke-width="1.2" stroke-linecap="butt"/>
<line x1="634.30" y1="784.40" x2="634.30" y2="786.60" stroke="#111" stroke-width="1.1" stroke-linecap="butt"/>
<line x1="634.30" y1="801.20" x2="634.30" y2="808.10" stroke="#111" stroke-width="1.1" stroke-linecap="butt"/>
<line x1="623.30" y1="784.40" x2="645.30" y2="784.40" stroke="#111" stroke-width="1.2" stroke-linecap="butt"/>
<line x1="623.30" y1="808.10" x2="645.30" y2="808.10" stroke="#111" stroke-width="1.2" stroke-linecap="butt"/>
<line x1="750.90" y1="1031.40" x2="750.90" y2="1044.00" stroke="#111" stroke-width="1.1" stroke-linecap="butt"/>
<line x1="750.90" y1="1057.60" x2="750.90" y2="1074.80" stroke="#111" stroke-width="1.1" stroke-linecap="butt"/>
<line x1="739.90" y1="1031.40" x2="761.90" y2="1031.40" stroke="#111" stroke-width="1.2" stroke-linecap="butt"/>
<line x1="739.90" y1="1074.80" x2="761.90" y2="1074.80" stroke="#111" stroke-width="1.2" stroke-linecap="butt"/>
<line x1="983.90" y1="1138.80" x2="983.90" y2="1143.20" stroke="#111" stroke-width="1.1" stroke-linecap="butt"/>
<line x1="983.90" y1="1156.30" x2="983.90" y2="1165.70" stroke="#111" stroke-width="1.1" stroke-linecap="butt"/>
<line x1="972.90" y1="1138.80" x2="994.90" y2="1138.80" stroke="#111" stroke-width="1.2" stroke-linecap="butt"/>
<line x1="972.90" y1="1165.70" x2="994.90" y2="1165.70" stroke="#111" stroke-width="1.2" stroke-linecap="butt"/>
<line x1="634.30" y1="1105.00" x2="634.30" y2="1114.30" stroke="#111" stroke-width="1.1" stroke-linecap="butt"/>
<line x1="634.30" y1="1127.90" x2="634.30" y2="1132.60" stroke="#111" stroke-width="1.1" stroke-linecap="butt"/>
<line x1="623.30" y1="1105.00" x2="645.30" y2="1105.00" stroke="#111" stroke-width="1.2" stroke-linecap="butt"/>
<line x1="623.30" y1="1132.60" x2="645.30" y2="1132.60" stroke="#111" stroke-width="1.2" stroke-linecap="butt"/>
<line x1="750.90" y1="1150.00" x2="750.90" y2="1161.30" stroke="#111" stroke-width="1.1" stroke-linecap="butt"/>
<line x1="750.90" y1="1174.90" x2="750.90" y2="1176.60" stroke="#111" stroke-width="1.1" stroke-linecap="butt"/>
<line x1="739.90" y1="1150.00" x2="761.90" y2="1150.00" stroke="#111" stroke-width="1.2" stroke-linecap="butt"/>
<line x1="739.90" y1="1176.60" x2="761.90" y2="1176.60" stroke="#111" stroke-width="1.2" stroke-linecap="butt"/>
<line x1="634.30" y1="1058.10" x2="634.30" y2="1066.70" stroke="#111" stroke-width="1.1" stroke-linecap="butt"/>
<line x1="623.30" y1="1058.10" x2="645.30" y2="1058.10" stroke="#111" stroke-width="1.2" stroke-linecap="butt"/>
<line x1="623.30" y1="1079.00" x2="645.30" y2="1079.00" stroke="#111" stroke-width="1.2" stroke-linecap="butt"/>
<line x1="750.90" y1="1146.40" x2="750.90" y2="1149.20" stroke="#111" stroke-width="1.1" stroke-linecap="butt"/>
<line x1="739.90" y1="1134.70" x2="761.90" y2="1134.70" stroke="#111" stroke-width="1.2" stroke-linecap="butt"/>
<line x1="739.90" y1="1149.20" x2="761.90" y2="1149.20" stroke="#111" stroke-width="1.2" stroke-linecap="butt"/>
<line x1="634.30" y1="1105.00" x2="634.30" y2="1128.30" stroke="#111" stroke-width="1.1" stroke-linecap="butt"/>
<line x1="634.30" y1="1143.60" x2="634.30" y2="1172.80" stroke="#111" stroke-width="1.1" stroke-linecap="butt"/>
<line x1="623.30" y1="1105.00" x2="645.30" y2="1105.00" stroke="#111" stroke-width="1.2" stroke-linecap="butt"/>
<line x1="623.30" y1="1172.80" x2="645.30" y2="1172.80" stroke="#111" stroke-width="1.2" stroke-linecap="butt"/>
<line x1="750.90" y1="1182.60" x2="750.90" y2="1211.50" stroke="#111" stroke-width="1.1" stroke-linecap="butt"/>
<line x1="750.90" y1="1225.50" x2="750.90" y2="1258.80" stroke="#111" stroke-width="1.1" stroke-linecap="butt"/>
<line x1="739.90" y1="1182.60" x2="761.90" y2="1182.60" stroke="#111" stroke-width="1.2" stroke-linecap="butt"/>
<line x1="739.90" y1="1258.80" x2="761.90" y2="1258.80" stroke="#111" stroke-width="1.2" stroke-linecap="butt"/>
<line x1="623.30" y1="1083.50" x2="645.30" y2="1083.50" stroke="#111" stroke-width="1.2" stroke-linecap="butt"/>
<line x1="623.30" y1="1098.50" x2="645.30" y2="1098.50" stroke="#111" stroke-width="1.2" stroke-linecap="butt"/>
<line x1="739.90" y1="1208.10" x2="761.90" y2="1208.10" stroke="#111" stroke-width="1.2" stroke-linecap="butt"/>
<line x1="739.90" y1="1212.60" x2="761.90" y2="1212.60" stroke="#111" stroke-width="1.2" stroke-linecap="butt"/>
<path d="M977.33,1317.93 L990.47,1317.93 L983.90,1329.63 Z" fill="#fff" stroke="#000" stroke-width="1.6" stroke-linejoin="miter"/>
<path d="M983.90,1316.00 L990.80,1323.00 L983.90,1330.00 L977.00,1323.00 Z" fill="#000"/>
<path d="M976.60,1322.50 L991.20,1322.50 L983.90,1335.80 Z" fill="#000"/>
<path d="M983.90,1313.65 L990.11,1319.50 L983.90,1325.35 L977.69,1319.50 Z" fill="#fff" stroke="#000" stroke-width="1.6"/>
<path d="M634.30,883.00 L641.60,896.90 L627.00,896.90 Z" fill="#000"/>
<path d="M750.90,1088.70 L758.20,1103.00 L743.60,1103.00 Z" fill="#000"/>
<path d="M983.90,1217.20 L991.20,1231.50 L976.60,1231.50 Z" fill="#000"/>
<path d="M634.30,787.57 L640.87,800.71 L627.73,800.71 Z" fill="#fff" stroke="#000" stroke-width="1.6" stroke-linejoin="miter"/>
<path d="M750.90,1044.91 L757.47,1057.15 L744.33,1057.15 Z" fill="#fff" stroke="#000" stroke-width="1.6" stroke-linejoin="miter"/>
<path d="M983.90,1144.07 L990.47,1155.86 L977.33,1155.86 Z" fill="#fff" stroke="#000" stroke-width="1.6" stroke-linejoin="miter"/>
<path d="M627.00,1114.30 L641.60,1114.30 L634.30,1127.90 Z" fill="#000"/>
<path d="M743.60,1161.30 L758.20,1161.30 L750.90,1174.90 Z" fill="#000"/>
<path d="M627.73,1067.12 L640.87,1067.12 L634.30,1078.37 Z" fill="#fff" stroke="#000" stroke-width="1.6" stroke-linejoin="miter"/>
<path d="M744.33,1134.22 L757.47,1134.22 L750.90,1145.56 Z" fill="#fff" stroke="#000" stroke-width="1.6" stroke-linejoin="miter"/>
<path d="M634.30,1128.30 L641.20,1135.95 L634.30,1143.60 L627.40,1135.95 Z" fill="#000"/>
<path d="M750.90,1211.50 L757.80,1218.50 L750.90,1225.50 L744.00,1218.50 Z" fill="#000"/>
<path d="M634.30,1084.25 L640.51,1091.00 L634.30,1097.75 L628.09,1091.00 Z" fill="#fff" stroke="#000" stroke-width="1.6"/>
<path d="M750.90,1203.51 L757.11,1208.95 L750.90,1214.39 L744.69,1208.95 Z" fill="#fff" stroke="#000" stroke-width="1.6"/>
<path d="M833.20,778.80 L840.50,792.80 L825.90,792.80 Z" fill="#000"/>
<text x="853.00" y="798.60" font-size="22.2" text-anchor="start" xml:space="preserve">CMC+IR (1.5 h)</text>
<path d="M833.20,806.65 L839.77,818.80 L826.63,818.80 Z" fill="#fff" stroke="#000" stroke-width="1.6" stroke-linejoin="miter"/>
<text x="853.00" y="825.55" font-size="22.2" text-anchor="start" xml:space="preserve">CUM+IR (1.5 h)</text>
<path d="M825.90,837.50 L840.50,837.50 L833.20,852.00 Z" fill="#000"/>
<text x="853.00" y="852.50" font-size="22.2" text-anchor="start" xml:space="preserve">CMC+IR (24 h)</text>
<path d="M826.63,865.40 L839.77,865.40 L833.20,877.46 Z" fill="#fff" stroke="#000" stroke-width="1.6" stroke-linejoin="miter"/>
<text x="853.00" y="879.45" font-size="22.2" text-anchor="start" xml:space="preserve">CUM+IR (24 h)</text>
<path d="M833.20,889.50 L840.10,897.35 L833.20,905.20 L826.30,897.35 Z" fill="#000"/>
<text x="853.00" y="906.40" font-size="22.2" text-anchor="start" xml:space="preserve">CMC+IR (72 h)</text>
<path d="M833.20,917.22 L839.41,924.10 L833.20,930.99 L826.99,924.10 Z" fill="#fff" stroke="#000" stroke-width="1.6"/>
<text x="853.00" y="933.35" font-size="22.2" text-anchor="start" xml:space="preserve">CUM+IR  (72 h)</text>
<text x="604.40" y="753.30" font-size="26" text-anchor="start" >d</text>
<text x="597.80" y="1345.02" font-size="25.5" text-anchor="end" >12</text>
<text x="597.80" y="1195.98" font-size="25.5" text-anchor="end" >18</text>
<text x="597.80" y="1046.94" font-size="25.5" text-anchor="end" >24</text>
<text x="597.80" y="897.90" font-size="25.5" text-anchor="end" >30</text>
<text x="636.40" y="1407.00" font-size="25.5" text-anchor="middle" >10</text>
<text x="752.80" y="1407.00" font-size="25.5" text-anchor="middle" >20</text>
<text x="869.20" y="1407.00" font-size="25.5" text-anchor="middle" >30</text>
<text x="985.90" y="1407.00" font-size="25.5" text-anchor="middle" >40</text>
<text x="701.20" y="1454.00" font-size="26.5" text-anchor="start" >Exposure dose (Gy)</text>
<text transform="translate(557.40,1261.20) rotate(-90)" font-size="27.0" x="0" y="0">Superoxide dismutase (U/ mg protein)</text>
</svg></body></html>
